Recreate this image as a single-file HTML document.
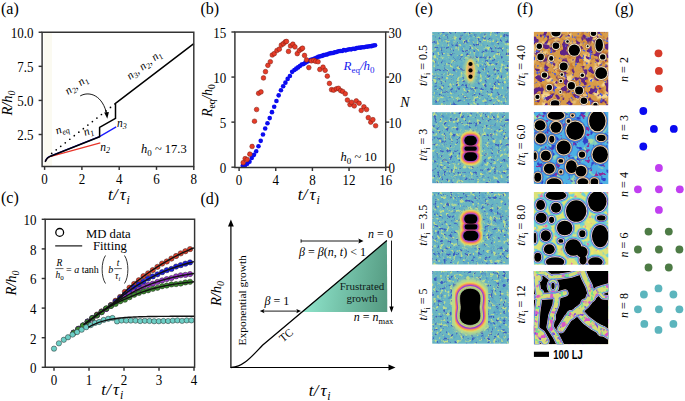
<!DOCTYPE html><html><head><meta charset="utf-8"><style>html,body{margin:0;padding:0;background:#fff;width:685px;height:401px;overflow:hidden}svg{display:block}</style></head><body>
<svg width="685" height="401" viewBox="0 0 685 401">
<rect width="685" height="401" fill="#fff"/>
<defs><filter id="blur05" x="-20%" y="-20%" width="140%" height="140%"><feGaussianBlur stdDeviation="0.5"/></filter><filter id="blur1" x="-30%" y="-30%" width="160%" height="160%"><feGaussianBlur stdDeviation="1.6"/></filter><filter id="texE" x="0" y="0" width="100%" height="100%" color-interpolation-filters="sRGB"><feFlood flood-color="#6ab6c2" result="base"/><feTurbulence type="fractalNoise" baseFrequency="0.2" numOctaves="2" seed="7" result="n0"/><feColorMatrix in="n0" type="matrix" values="0 0 0 0 0.353 0 0 0 0 0.651 0 0 0 0 0.784 0 0 4 0 -2.000" result="c0"/><feComposite in="c0" in2="base" operator="over" result="o0"/><feTurbulence type="fractalNoise" baseFrequency="0.3" numOctaves="2" seed="3" result="n1"/><feColorMatrix in="n1" type="matrix" values="0 0 0 0 0.745 0 0 0 0 0.871 0 0 0 0 0.549 6 0 0 0 -3.360" result="c1"/><feComposite in="c1" in2="o0" operator="over" result="o1"/><feTurbulence type="fractalNoise" baseFrequency="0.32" numOctaves="2" seed="5" result="n2"/><feColorMatrix in="n2" type="matrix" values="0 0 0 0 0.235 0 0 0 0 0.361 0 0 0 0 0.753 0 -6 0 0 2.460" result="c2"/><feComposite in="c2" in2="o1" operator="over" result="o2"/><feComposite in="o2" in2="SourceGraphic" operator="in"/></filter><filter id="texF1" x="0" y="0" width="100%" height="100%" color-interpolation-filters="sRGB"><feFlood flood-color="#d89c48" result="base"/><feTurbulence type="fractalNoise" baseFrequency="0.12" numOctaves="2" seed="11" result="n0"/><feColorMatrix in="n0" type="matrix" values="0 0 0 0 0.957 0 0 0 0 0.847 0 0 0 0 0.565 5 0 0 0 -2.650" result="c0"/><feComposite in="c0" in2="base" operator="over" result="o0"/><feTurbulence type="fractalNoise" baseFrequency="0.2" numOctaves="2" seed="14" result="n1"/><feColorMatrix in="n1" type="matrix" values="0 0 0 0 0.784 0 0 0 0 0.478 0 0 0 0 0.188 0 0 0 5 -2.800" result="c1"/><feComposite in="c1" in2="o0" operator="over" result="o1"/><feTurbulence type="fractalNoise" baseFrequency="0.16" numOctaves="2" seed="12" result="n2"/><feColorMatrix in="n2" type="matrix" values="0 0 0 0 0.369 0 0 0 0 0.141 0 0 0 0 0.525 0 -10 0 0 4.750" result="c2"/><feComposite in="c2" in2="o1" operator="over" result="o2"/><feTurbulence type="fractalNoise" baseFrequency="0.28" numOctaves="2" seed="13" result="n3"/><feColorMatrix in="n3" type="matrix" values="0 0 0 0 0.290 0 0 0 0 0.353 0 0 0 0 0.878 0 0 -8 0 2.880" result="c3"/><feComposite in="c3" in2="o2" operator="over" result="o3"/><feComposite in="o3" in2="SourceGraphic" operator="in"/></filter><filter id="texF2" x="0" y="0" width="100%" height="100%" color-interpolation-filters="sRGB"><feFlood flood-color="#4cb0e4" result="base"/><feTurbulence type="fractalNoise" baseFrequency="0.13" numOctaves="2" seed="21" result="n0"/><feColorMatrix in="n0" type="matrix" values="0 0 0 0 0.659 0 0 0 0 0.878 0 0 0 0 0.627 6 0 0 0 -3.300" result="c0"/><feComposite in="c0" in2="base" operator="over" result="o0"/><feTurbulence type="fractalNoise" baseFrequency="0.18" numOctaves="2" seed="22" result="n1"/><feColorMatrix in="n1" type="matrix" values="0 0 0 0 0.188 0 0 0 0 0.251 0 0 0 0 0.784 0 -7 0 0 3.010" result="c1"/><feComposite in="c1" in2="o0" operator="over" result="o1"/><feTurbulence type="fractalNoise" baseFrequency="0.22" numOctaves="2" seed="23" result="n2"/><feColorMatrix in="n2" type="matrix" values="0 0 0 0 0.565 0 0 0 0 0.165 0 0 0 0 0.596 0 0 -9 0 3.330" result="c2"/><feComposite in="c2" in2="o1" operator="over" result="o2"/><feComposite in="o2" in2="SourceGraphic" operator="in"/></filter><filter id="texF3" x="0" y="0" width="100%" height="100%" color-interpolation-filters="sRGB"><feFlood flood-color="#dce278" result="base"/><feTurbulence type="fractalNoise" baseFrequency="0.15" numOctaves="2" seed="31" result="n0"/><feColorMatrix in="n0" type="matrix" values="0 0 0 0 0.439 0 0 0 0 0.816 0 0 0 0 0.847 0 -7 0 0 2.940" result="c0"/><feComposite in="c0" in2="base" operator="over" result="o0"/><feTurbulence type="fractalNoise" baseFrequency="0.2" numOctaves="2" seed="32" result="n1"/><feColorMatrix in="n1" type="matrix" values="0 0 0 0 0.910 0 0 0 0 0.471 0 0 0 0 0.690 0 0 -9 0 3.330" result="c1"/><feComposite in="c1" in2="o0" operator="over" result="o1"/><feTurbulence type="fractalNoise" baseFrequency="0.2" numOctaves="2" seed="33" result="n2"/><feColorMatrix in="n2" type="matrix" values="0 0 0 0 0.941 0 0 0 0 0.910 0 0 0 0 0.408 8 0 0 0 -4.800" result="c2"/><feComposite in="c2" in2="o1" operator="over" result="o2"/><feComposite in="o2" in2="SourceGraphic" operator="in"/></filter><filter id="texF4" x="0" y="0" width="100%" height="100%" color-interpolation-filters="sRGB"><feFlood flood-color="#d8dc78" result="base"/><feTurbulence type="fractalNoise" baseFrequency="0.18" numOctaves="2" seed="41" result="n0"/><feColorMatrix in="n0" type="matrix" values="0 0 0 0 0.847 0 0 0 0 0.345 0 0 0 0 0.784 0 -8 0 0 3.520" result="c0"/><feComposite in="c0" in2="base" operator="over" result="o0"/><feTurbulence type="fractalNoise" baseFrequency="0.22" numOctaves="2" seed="42" result="n1"/><feColorMatrix in="n1" type="matrix" values="0 0 0 0 0.502 0 0 0 0 0.282 0 0 0 0 0.878 0 0 -9 0 3.420" result="c1"/><feComposite in="c1" in2="o0" operator="over" result="o1"/><feTurbulence type="fractalNoise" baseFrequency="0.2" numOctaves="2" seed="43" result="n2"/><feColorMatrix in="n2" type="matrix" values="0 0 0 0 0.439 0 0 0 0 0.878 0 0 0 0 0.565 9 0 0 0 -5.580" result="c2"/><feComposite in="c2" in2="o1" operator="over" result="o2"/><feComposite in="o2" in2="SourceGraphic" operator="in"/></filter></defs>
<rect x="43.8" y="32.25" width="8.2" height="134.15" fill="#fbfaf1"/>
<polyline points="45.20,161.30 46.50,159.00 48.50,157.30 51.00,156.30 100.30,142.80" fill="none" stroke="#e8352a" stroke-width="1.2" stroke-linejoin="round" />
<polyline points="45.20,161.50 46.50,159.00 48.50,157.00 51.00,155.90 99.50,136.60 116.20,126.90" fill="none" stroke="#1a1aff" stroke-width="1.3" stroke-linejoin="round" />
<circle cx="51.70" cy="153.40" r="0.85" fill="#000" stroke="none" stroke-width="0"/>
<circle cx="56.22" cy="149.86" r="0.85" fill="#000" stroke="none" stroke-width="0"/>
<circle cx="60.74" cy="146.33" r="0.85" fill="#000" stroke="none" stroke-width="0"/>
<circle cx="65.26" cy="142.79" r="0.85" fill="#000" stroke="none" stroke-width="0"/>
<circle cx="69.79" cy="139.26" r="0.85" fill="#000" stroke="none" stroke-width="0"/>
<circle cx="74.31" cy="135.72" r="0.85" fill="#000" stroke="none" stroke-width="0"/>
<circle cx="78.83" cy="132.19" r="0.85" fill="#000" stroke="none" stroke-width="0"/>
<circle cx="83.35" cy="128.65" r="0.85" fill="#000" stroke="none" stroke-width="0"/>
<circle cx="87.87" cy="125.11" r="0.85" fill="#000" stroke="none" stroke-width="0"/>
<circle cx="92.39" cy="121.58" r="0.85" fill="#000" stroke="none" stroke-width="0"/>
<circle cx="96.91" cy="118.04" r="0.85" fill="#000" stroke="none" stroke-width="0"/>
<circle cx="101.44" cy="114.51" r="0.85" fill="#000" stroke="none" stroke-width="0"/>
<circle cx="105.96" cy="110.97" r="0.85" fill="#000" stroke="none" stroke-width="0"/>
<circle cx="110.48" cy="107.44" r="0.85" fill="#000" stroke="none" stroke-width="0"/>
<circle cx="115.00" cy="103.90" r="0.85" fill="#000" stroke="none" stroke-width="0"/>
<polyline points="45.20,161.80 46.30,159.60 48.00,157.60 50.50,156.20 99.60,136.70 99.60,127.40 115.50,118.40 115.50,103.30 193.80,43.60" fill="none" stroke="#000" stroke-width="1.5" stroke-linejoin="round" />
<path d="M80.2,95.9 C90,90.5 103,96 106.8,114.5" fill="none" stroke="#000" stroke-width="0.9"/>
<path d="M104.2,112.6 L107.3,118.8 L108.9,112.0 Z" fill="#000"/>
<path d="M42.1,32.25 H193.8 V166.4 H42.1 Z" fill="none" stroke="#333" stroke-width="1.45"/>
<line x1="38.60" y1="134.50" x2="42.10" y2="134.50" stroke="#333" stroke-width="1.45" />
<text x="0.00" y="0.00" font-size="14.6" text-anchor="end" fill="#000" style="font-family:'Liberation Serif', serif" transform="translate(33.50 140.40) scale(0.89 1)" >2.5</text>
<line x1="38.60" y1="100.42" x2="42.10" y2="100.42" stroke="#333" stroke-width="1.45" />
<text x="0.00" y="0.00" font-size="14.6" text-anchor="end" fill="#000" style="font-family:'Liberation Serif', serif" transform="translate(33.50 106.32) scale(0.89 1)" >5.0</text>
<line x1="38.60" y1="66.33" x2="42.10" y2="66.33" stroke="#333" stroke-width="1.45" />
<text x="0.00" y="0.00" font-size="14.6" text-anchor="end" fill="#000" style="font-family:'Liberation Serif', serif" transform="translate(33.50 72.23) scale(0.89 1)" >7.5</text>
<line x1="38.60" y1="32.25" x2="42.10" y2="32.25" stroke="#333" stroke-width="1.45" />
<text x="0.00" y="0.00" font-size="14.6" text-anchor="end" fill="#000" style="font-family:'Liberation Serif', serif" transform="translate(33.50 38.15) scale(0.89 1)" >10.0</text>
<line x1="44.60" y1="166.40" x2="44.60" y2="169.90" stroke="#333" stroke-width="1.45" />
<text x="0.00" y="0.00" font-size="14.6" text-anchor="middle" fill="#000" style="font-family:'Liberation Serif', serif" transform="translate(44.60 184.00) scale(0.89 1)" >0</text>
<line x1="81.90" y1="166.40" x2="81.90" y2="169.90" stroke="#333" stroke-width="1.45" />
<text x="0.00" y="0.00" font-size="14.6" text-anchor="middle" fill="#000" style="font-family:'Liberation Serif', serif" transform="translate(81.90 184.00) scale(0.89 1)" >2</text>
<line x1="119.20" y1="166.40" x2="119.20" y2="169.90" stroke="#333" stroke-width="1.45" />
<text x="0.00" y="0.00" font-size="14.6" text-anchor="middle" fill="#000" style="font-family:'Liberation Serif', serif" transform="translate(119.20 184.00) scale(0.89 1)" >4</text>
<line x1="156.50" y1="166.40" x2="156.50" y2="169.90" stroke="#333" stroke-width="1.45" />
<text x="0.00" y="0.00" font-size="14.6" text-anchor="middle" fill="#000" style="font-family:'Liberation Serif', serif" transform="translate(156.50 184.00) scale(0.89 1)" >6</text>
<line x1="193.80" y1="166.40" x2="193.80" y2="169.90" stroke="#333" stroke-width="1.45" />
<text x="0.00" y="0.00" font-size="14.6" text-anchor="middle" fill="#000" style="font-family:'Liberation Serif', serif" transform="translate(193.80 184.00) scale(0.89 1)" >8</text>
<text x="12.30" y="103.00" font-size="14.5" text-anchor="middle" fill="#000" style="font-style:italic;font-family:'Liberation Serif', serif" transform="rotate(-90 12.3 103)" >R/<tspan>h</tspan><tspan font-size="10" dy="3">0</tspan></text>
<text y="199.5" font-size="17" style="font-family:'Liberation Serif', serif;font-style:italic"><tspan x="108.00">t</tspan><tspan x="113.00">/</tspan><tspan x="119.70">τ</tspan><tspan x="126.60" dy="4" font-size="11.9">i</tspan></text>
<text x="1.00" y="14.20" font-size="16" text-anchor="start" fill="#000" style="font-family:'Liberation Serif', serif" >(a)</text>
<text x="0" y="0" font-size="11.5" style="font-family:'Liberation Serif', serif;font-style:italic" transform="translate(130,80) rotate(-37)">n<tspan font-size="8" dy="2.5">3</tspan><tspan dy="-2.5">, n</tspan><tspan font-size="8" dy="2.5">2</tspan><tspan dy="-2.5">, n</tspan><tspan font-size="8" dy="2.5">1</tspan></text>
<text x="0" y="0" font-size="11.5" style="font-family:'Liberation Serif', serif;font-style:italic" transform="translate(68,95) rotate(-34)">n<tspan font-size="8" dy="2.5">2</tspan><tspan dy="-2.5">, n</tspan><tspan font-size="8" dy="2.5">1</tspan></text>
<text x="0" y="0" font-size="11.5" style="font-family:'Liberation Serif', serif;font-style:italic" transform="translate(57,134.5) rotate(-20)">n<tspan font-size="8" dy="2.5">eq</tspan></text>
<text x="0" y="0" font-size="11.5" style="font-family:'Liberation Serif', serif;font-style:italic" transform="translate(85,136) rotate(-20)">n<tspan font-size="8" dy="2.5">1</tspan></text>
<text x="117" y="126.5" font-size="11.5" style="font-family:'Liberation Serif', serif;font-style:italic">n<tspan font-size="8" dy="2.5">3</tspan></text>
<text x="100.2" y="150.5" font-size="11.5" style="font-family:'Liberation Serif', serif;font-style:italic">n<tspan font-size="8" dy="2.5">2</tspan></text>
<text x="141" y="153" font-size="12.5" style="font-family:'Liberation Serif', serif"><tspan font-style="italic">h</tspan><tspan font-size="9" dy="3">0</tspan><tspan dy="-3"> ~ 17.3</tspan></text>
<circle cx="242.76" cy="165.70" r="2.3" fill="#0c0cf0" stroke="none" stroke-width="0"/>
<circle cx="245.01" cy="165.28" r="2.3" fill="#0c0cf0" stroke="none" stroke-width="0"/>
<circle cx="247.25" cy="163.70" r="2.3" fill="#0c0cf0" stroke="none" stroke-width="0"/>
<circle cx="249.50" cy="161.72" r="2.3" fill="#0c0cf0" stroke="none" stroke-width="0"/>
<circle cx="251.74" cy="158.06" r="2.3" fill="#0c0cf0" stroke="none" stroke-width="0"/>
<circle cx="253.99" cy="154.86" r="2.3" fill="#0c0cf0" stroke="none" stroke-width="0"/>
<circle cx="256.23" cy="151.26" r="2.3" fill="#0c0cf0" stroke="none" stroke-width="0"/>
<circle cx="258.48" cy="146.18" r="2.3" fill="#0c0cf0" stroke="none" stroke-width="0"/>
<circle cx="260.72" cy="140.86" r="2.3" fill="#0c0cf0" stroke="none" stroke-width="0"/>
<circle cx="262.97" cy="134.50" r="2.3" fill="#0c0cf0" stroke="none" stroke-width="0"/>
<circle cx="265.21" cy="128.55" r="2.3" fill="#0c0cf0" stroke="none" stroke-width="0"/>
<circle cx="267.46" cy="123.29" r="2.3" fill="#0c0cf0" stroke="none" stroke-width="0"/>
<circle cx="269.70" cy="118.08" r="2.3" fill="#0c0cf0" stroke="none" stroke-width="0"/>
<circle cx="271.95" cy="112.17" r="2.3" fill="#0c0cf0" stroke="none" stroke-width="0"/>
<circle cx="274.19" cy="106.73" r="2.3" fill="#0c0cf0" stroke="none" stroke-width="0"/>
<circle cx="276.44" cy="101.02" r="2.3" fill="#0c0cf0" stroke="none" stroke-width="0"/>
<circle cx="278.68" cy="95.34" r="2.3" fill="#0c0cf0" stroke="none" stroke-width="0"/>
<circle cx="280.93" cy="90.31" r="2.3" fill="#0c0cf0" stroke="none" stroke-width="0"/>
<circle cx="283.17" cy="86.24" r="2.3" fill="#0c0cf0" stroke="none" stroke-width="0"/>
<circle cx="285.42" cy="82.63" r="2.3" fill="#0c0cf0" stroke="none" stroke-width="0"/>
<circle cx="287.66" cy="78.88" r="2.3" fill="#0c0cf0" stroke="none" stroke-width="0"/>
<circle cx="289.91" cy="75.93" r="2.3" fill="#0c0cf0" stroke="none" stroke-width="0"/>
<circle cx="292.15" cy="71.83" r="2.3" fill="#0c0cf0" stroke="none" stroke-width="0"/>
<circle cx="294.40" cy="69.99" r="2.3" fill="#0c0cf0" stroke="none" stroke-width="0"/>
<circle cx="296.23" cy="68.65" r="2.3" fill="#0c0cf0" stroke="none" stroke-width="0"/>
<circle cx="298.06" cy="67.39" r="2.3" fill="#0c0cf0" stroke="none" stroke-width="0"/>
<circle cx="299.89" cy="66.02" r="2.3" fill="#0c0cf0" stroke="none" stroke-width="0"/>
<circle cx="301.73" cy="64.52" r="2.3" fill="#0c0cf0" stroke="none" stroke-width="0"/>
<circle cx="303.56" cy="63.93" r="2.3" fill="#0c0cf0" stroke="none" stroke-width="0"/>
<circle cx="305.39" cy="62.63" r="2.3" fill="#0c0cf0" stroke="none" stroke-width="0"/>
<circle cx="307.22" cy="61.61" r="2.3" fill="#0c0cf0" stroke="none" stroke-width="0"/>
<circle cx="309.06" cy="60.84" r="2.3" fill="#0c0cf0" stroke="none" stroke-width="0"/>
<circle cx="310.89" cy="59.81" r="2.3" fill="#0c0cf0" stroke="none" stroke-width="0"/>
<circle cx="312.72" cy="59.31" r="2.3" fill="#0c0cf0" stroke="none" stroke-width="0"/>
<circle cx="314.55" cy="58.55" r="2.3" fill="#0c0cf0" stroke="none" stroke-width="0"/>
<circle cx="316.39" cy="57.75" r="2.3" fill="#0c0cf0" stroke="none" stroke-width="0"/>
<circle cx="318.22" cy="56.78" r="2.3" fill="#0c0cf0" stroke="none" stroke-width="0"/>
<circle cx="320.05" cy="56.36" r="2.3" fill="#0c0cf0" stroke="none" stroke-width="0"/>
<circle cx="321.88" cy="55.89" r="2.3" fill="#0c0cf0" stroke="none" stroke-width="0"/>
<circle cx="323.72" cy="55.16" r="2.3" fill="#0c0cf0" stroke="none" stroke-width="0"/>
<circle cx="325.55" cy="54.75" r="2.3" fill="#0c0cf0" stroke="none" stroke-width="0"/>
<circle cx="327.38" cy="54.37" r="2.3" fill="#0c0cf0" stroke="none" stroke-width="0"/>
<circle cx="329.21" cy="53.54" r="2.3" fill="#0c0cf0" stroke="none" stroke-width="0"/>
<circle cx="331.05" cy="53.15" r="2.3" fill="#0c0cf0" stroke="none" stroke-width="0"/>
<circle cx="332.88" cy="53.03" r="2.3" fill="#0c0cf0" stroke="none" stroke-width="0"/>
<circle cx="334.71" cy="52.35" r="2.3" fill="#0c0cf0" stroke="none" stroke-width="0"/>
<circle cx="336.54" cy="51.96" r="2.3" fill="#0c0cf0" stroke="none" stroke-width="0"/>
<circle cx="338.38" cy="51.30" r="2.3" fill="#0c0cf0" stroke="none" stroke-width="0"/>
<circle cx="340.21" cy="51.01" r="2.3" fill="#0c0cf0" stroke="none" stroke-width="0"/>
<circle cx="342.04" cy="50.95" r="2.3" fill="#0c0cf0" stroke="none" stroke-width="0"/>
<circle cx="343.87" cy="50.08" r="2.3" fill="#0c0cf0" stroke="none" stroke-width="0"/>
<circle cx="345.71" cy="50.35" r="2.3" fill="#0c0cf0" stroke="none" stroke-width="0"/>
<circle cx="347.54" cy="49.79" r="2.3" fill="#0c0cf0" stroke="none" stroke-width="0"/>
<circle cx="349.37" cy="49.22" r="2.3" fill="#0c0cf0" stroke="none" stroke-width="0"/>
<circle cx="351.20" cy="49.35" r="2.3" fill="#0c0cf0" stroke="none" stroke-width="0"/>
<circle cx="353.04" cy="48.81" r="2.3" fill="#0c0cf0" stroke="none" stroke-width="0"/>
<circle cx="354.87" cy="48.85" r="2.3" fill="#0c0cf0" stroke="none" stroke-width="0"/>
<circle cx="356.70" cy="48.12" r="2.3" fill="#0c0cf0" stroke="none" stroke-width="0"/>
<circle cx="358.53" cy="47.79" r="2.3" fill="#0c0cf0" stroke="none" stroke-width="0"/>
<circle cx="360.37" cy="47.66" r="2.3" fill="#0c0cf0" stroke="none" stroke-width="0"/>
<circle cx="362.20" cy="47.18" r="2.3" fill="#0c0cf0" stroke="none" stroke-width="0"/>
<circle cx="364.03" cy="47.32" r="2.3" fill="#0c0cf0" stroke="none" stroke-width="0"/>
<circle cx="365.86" cy="46.78" r="2.3" fill="#0c0cf0" stroke="none" stroke-width="0"/>
<circle cx="367.70" cy="46.59" r="2.3" fill="#0c0cf0" stroke="none" stroke-width="0"/>
<circle cx="369.53" cy="46.32" r="2.3" fill="#0c0cf0" stroke="none" stroke-width="0"/>
<circle cx="371.36" cy="46.14" r="2.3" fill="#0c0cf0" stroke="none" stroke-width="0"/>
<circle cx="373.19" cy="45.59" r="2.3" fill="#0c0cf0" stroke="none" stroke-width="0"/>
<circle cx="375.03" cy="45.24" r="2.3" fill="#0c0cf0" stroke="none" stroke-width="0"/>
<circle cx="243.22" cy="162.69" r="2.35" fill="#e63c28" stroke="#7a1a10" stroke-width="0.5"/>
<circle cx="245.15" cy="158.64" r="2.35" fill="#e63c28" stroke="#7a1a10" stroke-width="0.5"/>
<circle cx="247.16" cy="159.54" r="2.35" fill="#e63c28" stroke="#7a1a10" stroke-width="0.5"/>
<circle cx="249.82" cy="154.13" r="2.35" fill="#e63c28" stroke="#7a1a10" stroke-width="0.5"/>
<circle cx="252.11" cy="146.47" r="2.35" fill="#e63c28" stroke="#7a1a10" stroke-width="0.5"/>
<circle cx="254.49" cy="121.23" r="2.35" fill="#e63c28" stroke="#7a1a10" stroke-width="0.5"/>
<circle cx="256.60" cy="109.51" r="2.35" fill="#e63c28" stroke="#7a1a10" stroke-width="0.5"/>
<circle cx="258.62" cy="93.29" r="2.35" fill="#e63c28" stroke="#7a1a10" stroke-width="0.5"/>
<circle cx="261.00" cy="91.94" r="2.35" fill="#e63c28" stroke="#7a1a10" stroke-width="0.5"/>
<circle cx="263.47" cy="77.97" r="2.35" fill="#e63c28" stroke="#7a1a10" stroke-width="0.5"/>
<circle cx="265.49" cy="71.66" r="2.35" fill="#e63c28" stroke="#7a1a10" stroke-width="0.5"/>
<circle cx="267.87" cy="65.35" r="2.35" fill="#e63c28" stroke="#7a1a10" stroke-width="0.5"/>
<circle cx="270.34" cy="61.74" r="2.35" fill="#e63c28" stroke="#7a1a10" stroke-width="0.5"/>
<circle cx="272.27" cy="54.98" r="2.35" fill="#e63c28" stroke="#7a1a10" stroke-width="0.5"/>
<circle cx="274.28" cy="53.63" r="2.35" fill="#e63c28" stroke="#7a1a10" stroke-width="0.5"/>
<circle cx="276.94" cy="50.48" r="2.35" fill="#e63c28" stroke="#7a1a10" stroke-width="0.5"/>
<circle cx="279.32" cy="49.13" r="2.35" fill="#e63c28" stroke="#7a1a10" stroke-width="0.5"/>
<circle cx="281.34" cy="45.07" r="2.35" fill="#e63c28" stroke="#7a1a10" stroke-width="0.5"/>
<circle cx="283.35" cy="43.72" r="2.35" fill="#e63c28" stroke="#7a1a10" stroke-width="0.5"/>
<circle cx="285.28" cy="41.91" r="2.35" fill="#e63c28" stroke="#7a1a10" stroke-width="0.5"/>
<circle cx="286.47" cy="41.46" r="2.35" fill="#e63c28" stroke="#7a1a10" stroke-width="0.5"/>
<circle cx="288.49" cy="51.38" r="2.35" fill="#e63c28" stroke="#7a1a10" stroke-width="0.5"/>
<circle cx="290.50" cy="45.97" r="2.35" fill="#e63c28" stroke="#7a1a10" stroke-width="0.5"/>
<circle cx="292.88" cy="44.17" r="2.35" fill="#e63c28" stroke="#7a1a10" stroke-width="0.5"/>
<circle cx="294.90" cy="46.87" r="2.35" fill="#e63c28" stroke="#7a1a10" stroke-width="0.5"/>
<circle cx="297.28" cy="53.63" r="2.35" fill="#e63c28" stroke="#7a1a10" stroke-width="0.5"/>
<circle cx="299.30" cy="50.48" r="2.35" fill="#e63c28" stroke="#7a1a10" stroke-width="0.5"/>
<circle cx="301.31" cy="49.13" r="2.35" fill="#e63c28" stroke="#7a1a10" stroke-width="0.5"/>
<circle cx="302.50" cy="48.22" r="2.35" fill="#e63c28" stroke="#7a1a10" stroke-width="0.5"/>
<circle cx="304.52" cy="55.43" r="2.35" fill="#e63c28" stroke="#7a1a10" stroke-width="0.5"/>
<circle cx="306.54" cy="59.94" r="2.35" fill="#e63c28" stroke="#7a1a10" stroke-width="0.5"/>
<circle cx="308.83" cy="67.60" r="2.35" fill="#e63c28" stroke="#7a1a10" stroke-width="0.5"/>
<circle cx="311.30" cy="60.84" r="2.35" fill="#e63c28" stroke="#7a1a10" stroke-width="0.5"/>
<circle cx="313.87" cy="60.39" r="2.35" fill="#e63c28" stroke="#7a1a10" stroke-width="0.5"/>
<circle cx="315.61" cy="61.29" r="2.35" fill="#e63c28" stroke="#7a1a10" stroke-width="0.5"/>
<circle cx="318.08" cy="61.74" r="2.35" fill="#e63c28" stroke="#7a1a10" stroke-width="0.5"/>
<circle cx="319.82" cy="69.41" r="2.35" fill="#e63c28" stroke="#7a1a10" stroke-width="0.5"/>
<circle cx="323.03" cy="67.15" r="2.35" fill="#e63c28" stroke="#7a1a10" stroke-width="0.5"/>
<circle cx="325.14" cy="70.31" r="2.35" fill="#e63c28" stroke="#7a1a10" stroke-width="0.5"/>
<circle cx="327.33" cy="76.17" r="2.35" fill="#e63c28" stroke="#7a1a10" stroke-width="0.5"/>
<circle cx="329.44" cy="83.38" r="2.35" fill="#e63c28" stroke="#7a1a10" stroke-width="0.5"/>
<circle cx="331.55" cy="89.69" r="2.35" fill="#e63c28" stroke="#7a1a10" stroke-width="0.5"/>
<circle cx="333.66" cy="90.14" r="2.35" fill="#e63c28" stroke="#7a1a10" stroke-width="0.5"/>
<circle cx="336.41" cy="88.78" r="2.35" fill="#e63c28" stroke="#7a1a10" stroke-width="0.5"/>
<circle cx="338.51" cy="88.33" r="2.35" fill="#e63c28" stroke="#7a1a10" stroke-width="0.5"/>
<circle cx="340.62" cy="90.59" r="2.35" fill="#e63c28" stroke="#7a1a10" stroke-width="0.5"/>
<circle cx="342.73" cy="91.49" r="2.35" fill="#e63c28" stroke="#7a1a10" stroke-width="0.5"/>
<circle cx="345.29" cy="93.74" r="2.35" fill="#e63c28" stroke="#7a1a10" stroke-width="0.5"/>
<circle cx="347.40" cy="100.05" r="2.35" fill="#e63c28" stroke="#7a1a10" stroke-width="0.5"/>
<circle cx="349.97" cy="104.56" r="2.35" fill="#e63c28" stroke="#7a1a10" stroke-width="0.5"/>
<circle cx="351.62" cy="102.30" r="2.35" fill="#e63c28" stroke="#7a1a10" stroke-width="0.5"/>
<circle cx="354.27" cy="105.91" r="2.35" fill="#e63c28" stroke="#7a1a10" stroke-width="0.5"/>
<circle cx="356.29" cy="100.95" r="2.35" fill="#e63c28" stroke="#7a1a10" stroke-width="0.5"/>
<circle cx="359.13" cy="103.21" r="2.35" fill="#e63c28" stroke="#7a1a10" stroke-width="0.5"/>
<circle cx="361.24" cy="110.42" r="2.35" fill="#e63c28" stroke="#7a1a10" stroke-width="0.5"/>
<circle cx="363.89" cy="106.81" r="2.35" fill="#e63c28" stroke="#7a1a10" stroke-width="0.5"/>
<circle cx="366.55" cy="109.51" r="2.35" fill="#e63c28" stroke="#7a1a10" stroke-width="0.5"/>
<circle cx="368.29" cy="117.63" r="2.35" fill="#e63c28" stroke="#7a1a10" stroke-width="0.5"/>
<circle cx="370.77" cy="122.13" r="2.35" fill="#e63c28" stroke="#7a1a10" stroke-width="0.5"/>
<circle cx="372.87" cy="119.65" r="2.35" fill="#e63c28" stroke="#7a1a10" stroke-width="0.5"/>
<circle cx="375.62" cy="125.74" r="2.35" fill="#e63c28" stroke="#7a1a10" stroke-width="0.5"/>
<path d="M234.9,32.0 H385.7 V167.5 H234.9 Z" fill="none" stroke="#333" stroke-width="1.45"/>
<line x1="231.40" y1="167.20" x2="234.90" y2="167.20" stroke="#333" stroke-width="1.45" />
<text x="0.00" y="0.00" font-size="14.6" text-anchor="end" fill="#000" style="font-family:'Liberation Serif', serif" transform="translate(226.30 173.10) scale(0.89 1)" >0</text>
<line x1="231.40" y1="122.13" x2="234.90" y2="122.13" stroke="#333" stroke-width="1.45" />
<text x="0.00" y="0.00" font-size="14.6" text-anchor="end" fill="#000" style="font-family:'Liberation Serif', serif" transform="translate(226.30 128.03) scale(0.89 1)" >5</text>
<line x1="231.40" y1="77.07" x2="234.90" y2="77.07" stroke="#333" stroke-width="1.45" />
<text x="0.00" y="0.00" font-size="14.6" text-anchor="end" fill="#000" style="font-family:'Liberation Serif', serif" transform="translate(226.30 82.97) scale(0.89 1)" >10</text>
<line x1="231.40" y1="32.00" x2="234.90" y2="32.00" stroke="#333" stroke-width="1.45" />
<text x="0.00" y="0.00" font-size="14.6" text-anchor="end" fill="#000" style="font-family:'Liberation Serif', serif" transform="translate(226.30 37.90) scale(0.89 1)" >15</text>
<line x1="385.70" y1="167.20" x2="389.20" y2="167.20" stroke="#333" stroke-width="1.45" />
<text x="0.00" y="0.00" font-size="14.6" text-anchor="start" fill="#000" style="font-family:'Liberation Serif', serif" transform="translate(388.50 173.10) scale(0.89 1)" >0</text>
<line x1="385.70" y1="122.13" x2="389.20" y2="122.13" stroke="#333" stroke-width="1.45" />
<text x="0.00" y="0.00" font-size="14.6" text-anchor="start" fill="#000" style="font-family:'Liberation Serif', serif" transform="translate(388.50 128.03) scale(0.89 1)" >10</text>
<line x1="385.70" y1="77.07" x2="389.20" y2="77.07" stroke="#333" stroke-width="1.45" />
<text x="0.00" y="0.00" font-size="14.6" text-anchor="start" fill="#000" style="font-family:'Liberation Serif', serif" transform="translate(388.50 82.97) scale(0.89 1)" >20</text>
<line x1="385.70" y1="32.00" x2="389.20" y2="32.00" stroke="#333" stroke-width="1.45" />
<text x="0.00" y="0.00" font-size="14.6" text-anchor="start" fill="#000" style="font-family:'Liberation Serif', serif" transform="translate(388.50 37.90) scale(0.89 1)" >30</text>
<line x1="239.10" y1="167.50" x2="239.10" y2="171.00" stroke="#333" stroke-width="1.45" />
<text x="0.00" y="0.00" font-size="14.6" text-anchor="middle" fill="#000" style="font-family:'Liberation Serif', serif" transform="translate(239.10 185.10) scale(0.89 1)" >0</text>
<line x1="275.75" y1="167.50" x2="275.75" y2="171.00" stroke="#333" stroke-width="1.45" />
<text x="0.00" y="0.00" font-size="14.6" text-anchor="middle" fill="#000" style="font-family:'Liberation Serif', serif" transform="translate(275.75 185.10) scale(0.89 1)" >4</text>
<line x1="312.40" y1="167.50" x2="312.40" y2="171.00" stroke="#333" stroke-width="1.45" />
<text x="0.00" y="0.00" font-size="14.6" text-anchor="middle" fill="#000" style="font-family:'Liberation Serif', serif" transform="translate(312.40 185.10) scale(0.89 1)" >8</text>
<line x1="349.05" y1="167.50" x2="349.05" y2="171.00" stroke="#333" stroke-width="1.45" />
<text x="0.00" y="0.00" font-size="14.6" text-anchor="middle" fill="#000" style="font-family:'Liberation Serif', serif" transform="translate(349.05 185.10) scale(0.89 1)" >12</text>
<line x1="385.70" y1="167.50" x2="385.70" y2="171.00" stroke="#333" stroke-width="1.45" />
<text x="0.00" y="0.00" font-size="14.6" text-anchor="middle" fill="#000" style="font-family:'Liberation Serif', serif" transform="translate(385.70 185.10) scale(0.89 1)" >16</text>
<text x="200.50" y="14.20" font-size="16" text-anchor="start" fill="#000" style="font-family:'Liberation Serif', serif" >(b)</text>
<text x="0" y="0" font-size="13.6" text-anchor="middle" style="font-family:'Liberation Serif', serif;font-style:italic" transform="translate(211.8,100.5) rotate(-90)">R<tspan font-size="9.5" dy="3" font-style="normal">eq</tspan><tspan dy="-3">/h</tspan><tspan font-size="9.5" dy="3" font-style="normal">0</tspan></text>
<text x="0" y="0" font-size="14.5" text-anchor="middle" style="font-family:'Liberation Serif', serif;font-style:italic" transform="translate(409.5,101.5) rotate(-90)"> </text>
<text x="405.00" y="106.50" font-size="14" text-anchor="middle" fill="#000" style="font-style:italic;font-family:'Liberation Serif', serif" >N</text>
<text y="199.5" font-size="17" style="font-family:'Liberation Serif', serif;font-style:italic"><tspan x="297.80">t</tspan><tspan x="302.80">/</tspan><tspan x="309.50">τ</tspan><tspan x="316.40" dy="4" font-size="11.9">i</tspan></text>
<text x="343.5" y="70" font-size="13" fill="#1a1aee" style="font-family:'Liberation Serif', serif;font-style:italic">R<tspan font-size="9" dy="3" font-style="normal">eq</tspan><tspan dy="-3">/h</tspan><tspan font-size="9" dy="3" font-style="normal">0</tspan></text>
<text x="340.5" y="160.5" font-size="12.5" style="font-family:'Liberation Serif', serif"><tspan font-style="italic">h</tspan><tspan font-size="9" dy="3">0</tspan><tspan dy="-3"> ~ 10</tspan></text>
<circle cx="73.67" cy="332.60" r="2.65" fill="#e4402c" stroke="#2a2a2a" stroke-width="0.5"/>
<circle cx="78.33" cy="328.79" r="2.65" fill="#e4402c" stroke="#2a2a2a" stroke-width="0.5"/>
<circle cx="82.98" cy="325.75" r="2.65" fill="#e4402c" stroke="#2a2a2a" stroke-width="0.5"/>
<circle cx="87.64" cy="321.67" r="2.65" fill="#e4402c" stroke="#2a2a2a" stroke-width="0.5"/>
<circle cx="92.29" cy="318.26" r="2.65" fill="#e4402c" stroke="#2a2a2a" stroke-width="0.5"/>
<circle cx="96.94" cy="314.57" r="2.65" fill="#e4402c" stroke="#2a2a2a" stroke-width="0.5"/>
<circle cx="101.60" cy="311.42" r="2.65" fill="#e4402c" stroke="#2a2a2a" stroke-width="0.5"/>
<circle cx="106.25" cy="308.65" r="2.65" fill="#e4402c" stroke="#2a2a2a" stroke-width="0.5"/>
<circle cx="110.91" cy="305.02" r="2.65" fill="#e4402c" stroke="#2a2a2a" stroke-width="0.5"/>
<circle cx="115.56" cy="300.75" r="2.65" fill="#e4402c" stroke="#2a2a2a" stroke-width="0.5"/>
<circle cx="120.22" cy="296.87" r="2.65" fill="#e4402c" stroke="#2a2a2a" stroke-width="0.5"/>
<circle cx="124.88" cy="291.85" r="2.65" fill="#e4402c" stroke="#2a2a2a" stroke-width="0.5"/>
<circle cx="129.53" cy="287.70" r="2.65" fill="#e4402c" stroke="#2a2a2a" stroke-width="0.5"/>
<circle cx="134.19" cy="283.89" r="2.65" fill="#e4402c" stroke="#2a2a2a" stroke-width="0.5"/>
<circle cx="138.84" cy="280.27" r="2.65" fill="#e4402c" stroke="#2a2a2a" stroke-width="0.5"/>
<circle cx="143.50" cy="276.13" r="2.65" fill="#e4402c" stroke="#2a2a2a" stroke-width="0.5"/>
<circle cx="148.15" cy="273.35" r="2.65" fill="#e4402c" stroke="#2a2a2a" stroke-width="0.5"/>
<circle cx="152.81" cy="270.04" r="2.65" fill="#e4402c" stroke="#2a2a2a" stroke-width="0.5"/>
<circle cx="157.46" cy="266.87" r="2.65" fill="#e4402c" stroke="#2a2a2a" stroke-width="0.5"/>
<circle cx="162.12" cy="263.55" r="2.65" fill="#e4402c" stroke="#2a2a2a" stroke-width="0.5"/>
<circle cx="166.77" cy="261.50" r="2.65" fill="#e4402c" stroke="#2a2a2a" stroke-width="0.5"/>
<circle cx="171.43" cy="258.57" r="2.65" fill="#e4402c" stroke="#2a2a2a" stroke-width="0.5"/>
<circle cx="176.08" cy="256.02" r="2.65" fill="#e4402c" stroke="#2a2a2a" stroke-width="0.5"/>
<circle cx="180.74" cy="253.39" r="2.65" fill="#e4402c" stroke="#2a2a2a" stroke-width="0.5"/>
<circle cx="185.39" cy="251.24" r="2.65" fill="#e4402c" stroke="#2a2a2a" stroke-width="0.5"/>
<circle cx="190.04" cy="249.13" r="2.65" fill="#e4402c" stroke="#2a2a2a" stroke-width="0.5"/>
<circle cx="73.67" cy="332.77" r="2.65" fill="#1c1ce8" stroke="#2a2a2a" stroke-width="0.5"/>
<circle cx="78.33" cy="329.01" r="2.65" fill="#1c1ce8" stroke="#2a2a2a" stroke-width="0.5"/>
<circle cx="82.98" cy="325.49" r="2.65" fill="#1c1ce8" stroke="#2a2a2a" stroke-width="0.5"/>
<circle cx="87.64" cy="321.51" r="2.65" fill="#1c1ce8" stroke="#2a2a2a" stroke-width="0.5"/>
<circle cx="92.29" cy="317.99" r="2.65" fill="#1c1ce8" stroke="#2a2a2a" stroke-width="0.5"/>
<circle cx="96.94" cy="315.32" r="2.65" fill="#1c1ce8" stroke="#2a2a2a" stroke-width="0.5"/>
<circle cx="101.60" cy="312.00" r="2.65" fill="#1c1ce8" stroke="#2a2a2a" stroke-width="0.5"/>
<circle cx="106.25" cy="308.78" r="2.65" fill="#1c1ce8" stroke="#2a2a2a" stroke-width="0.5"/>
<circle cx="110.91" cy="305.46" r="2.65" fill="#1c1ce8" stroke="#2a2a2a" stroke-width="0.5"/>
<circle cx="115.56" cy="301.67" r="2.65" fill="#1c1ce8" stroke="#2a2a2a" stroke-width="0.5"/>
<circle cx="120.22" cy="297.81" r="2.65" fill="#1c1ce8" stroke="#2a2a2a" stroke-width="0.5"/>
<circle cx="124.88" cy="294.31" r="2.65" fill="#1c1ce8" stroke="#2a2a2a" stroke-width="0.5"/>
<circle cx="129.53" cy="290.98" r="2.65" fill="#1c1ce8" stroke="#2a2a2a" stroke-width="0.5"/>
<circle cx="134.19" cy="287.43" r="2.65" fill="#1c1ce8" stroke="#2a2a2a" stroke-width="0.5"/>
<circle cx="138.84" cy="284.51" r="2.65" fill="#1c1ce8" stroke="#2a2a2a" stroke-width="0.5"/>
<circle cx="143.50" cy="281.55" r="2.65" fill="#1c1ce8" stroke="#2a2a2a" stroke-width="0.5"/>
<circle cx="148.15" cy="278.62" r="2.65" fill="#1c1ce8" stroke="#2a2a2a" stroke-width="0.5"/>
<circle cx="152.81" cy="276.43" r="2.65" fill="#1c1ce8" stroke="#2a2a2a" stroke-width="0.5"/>
<circle cx="157.46" cy="274.34" r="2.65" fill="#1c1ce8" stroke="#2a2a2a" stroke-width="0.5"/>
<circle cx="162.12" cy="272.17" r="2.65" fill="#1c1ce8" stroke="#2a2a2a" stroke-width="0.5"/>
<circle cx="166.77" cy="270.19" r="2.65" fill="#1c1ce8" stroke="#2a2a2a" stroke-width="0.5"/>
<circle cx="171.43" cy="268.95" r="2.65" fill="#1c1ce8" stroke="#2a2a2a" stroke-width="0.5"/>
<circle cx="176.08" cy="266.55" r="2.65" fill="#1c1ce8" stroke="#2a2a2a" stroke-width="0.5"/>
<circle cx="180.74" cy="265.14" r="2.65" fill="#1c1ce8" stroke="#2a2a2a" stroke-width="0.5"/>
<circle cx="185.39" cy="263.65" r="2.65" fill="#1c1ce8" stroke="#2a2a2a" stroke-width="0.5"/>
<circle cx="190.04" cy="262.43" r="2.65" fill="#1c1ce8" stroke="#2a2a2a" stroke-width="0.5"/>
<circle cx="73.67" cy="332.67" r="2.65" fill="#9a34cc" stroke="#2a2a2a" stroke-width="0.5"/>
<circle cx="78.33" cy="329.03" r="2.65" fill="#9a34cc" stroke="#2a2a2a" stroke-width="0.5"/>
<circle cx="82.98" cy="325.71" r="2.65" fill="#9a34cc" stroke="#2a2a2a" stroke-width="0.5"/>
<circle cx="87.64" cy="321.73" r="2.65" fill="#9a34cc" stroke="#2a2a2a" stroke-width="0.5"/>
<circle cx="92.29" cy="318.78" r="2.65" fill="#9a34cc" stroke="#2a2a2a" stroke-width="0.5"/>
<circle cx="96.94" cy="315.39" r="2.65" fill="#9a34cc" stroke="#2a2a2a" stroke-width="0.5"/>
<circle cx="101.60" cy="311.97" r="2.65" fill="#9a34cc" stroke="#2a2a2a" stroke-width="0.5"/>
<circle cx="106.25" cy="308.96" r="2.65" fill="#9a34cc" stroke="#2a2a2a" stroke-width="0.5"/>
<circle cx="110.91" cy="305.79" r="2.65" fill="#9a34cc" stroke="#2a2a2a" stroke-width="0.5"/>
<circle cx="115.56" cy="303.03" r="2.65" fill="#9a34cc" stroke="#2a2a2a" stroke-width="0.5"/>
<circle cx="120.22" cy="300.10" r="2.65" fill="#9a34cc" stroke="#2a2a2a" stroke-width="0.5"/>
<circle cx="124.88" cy="297.11" r="2.65" fill="#9a34cc" stroke="#2a2a2a" stroke-width="0.5"/>
<circle cx="129.53" cy="294.46" r="2.65" fill="#9a34cc" stroke="#2a2a2a" stroke-width="0.5"/>
<circle cx="134.19" cy="291.68" r="2.65" fill="#9a34cc" stroke="#2a2a2a" stroke-width="0.5"/>
<circle cx="138.84" cy="289.63" r="2.65" fill="#9a34cc" stroke="#2a2a2a" stroke-width="0.5"/>
<circle cx="143.50" cy="286.74" r="2.65" fill="#9a34cc" stroke="#2a2a2a" stroke-width="0.5"/>
<circle cx="148.15" cy="285.02" r="2.65" fill="#9a34cc" stroke="#2a2a2a" stroke-width="0.5"/>
<circle cx="152.81" cy="283.66" r="2.65" fill="#9a34cc" stroke="#2a2a2a" stroke-width="0.5"/>
<circle cx="157.46" cy="281.96" r="2.65" fill="#9a34cc" stroke="#2a2a2a" stroke-width="0.5"/>
<circle cx="162.12" cy="280.41" r="2.65" fill="#9a34cc" stroke="#2a2a2a" stroke-width="0.5"/>
<circle cx="166.77" cy="279.08" r="2.65" fill="#9a34cc" stroke="#2a2a2a" stroke-width="0.5"/>
<circle cx="171.43" cy="278.10" r="2.65" fill="#9a34cc" stroke="#2a2a2a" stroke-width="0.5"/>
<circle cx="176.08" cy="276.38" r="2.65" fill="#9a34cc" stroke="#2a2a2a" stroke-width="0.5"/>
<circle cx="180.74" cy="275.28" r="2.65" fill="#9a34cc" stroke="#2a2a2a" stroke-width="0.5"/>
<circle cx="185.39" cy="274.88" r="2.65" fill="#9a34cc" stroke="#2a2a2a" stroke-width="0.5"/>
<circle cx="190.04" cy="274.08" r="2.65" fill="#9a34cc" stroke="#2a2a2a" stroke-width="0.5"/>
<circle cx="73.67" cy="332.95" r="2.65" fill="#3a8a2c" stroke="#2a2a2a" stroke-width="0.5"/>
<circle cx="78.33" cy="329.29" r="2.65" fill="#3a8a2c" stroke="#2a2a2a" stroke-width="0.5"/>
<circle cx="82.98" cy="325.50" r="2.65" fill="#3a8a2c" stroke="#2a2a2a" stroke-width="0.5"/>
<circle cx="87.64" cy="322.06" r="2.65" fill="#3a8a2c" stroke="#2a2a2a" stroke-width="0.5"/>
<circle cx="92.29" cy="318.10" r="2.65" fill="#3a8a2c" stroke="#2a2a2a" stroke-width="0.5"/>
<circle cx="96.94" cy="315.31" r="2.65" fill="#3a8a2c" stroke="#2a2a2a" stroke-width="0.5"/>
<circle cx="101.60" cy="312.15" r="2.65" fill="#3a8a2c" stroke="#2a2a2a" stroke-width="0.5"/>
<circle cx="106.25" cy="308.38" r="2.65" fill="#3a8a2c" stroke="#2a2a2a" stroke-width="0.5"/>
<circle cx="110.91" cy="306.05" r="2.65" fill="#3a8a2c" stroke="#2a2a2a" stroke-width="0.5"/>
<circle cx="115.56" cy="303.89" r="2.65" fill="#3a8a2c" stroke="#2a2a2a" stroke-width="0.5"/>
<circle cx="120.22" cy="301.26" r="2.65" fill="#3a8a2c" stroke="#2a2a2a" stroke-width="0.5"/>
<circle cx="124.88" cy="299.65" r="2.65" fill="#3a8a2c" stroke="#2a2a2a" stroke-width="0.5"/>
<circle cx="129.53" cy="297.20" r="2.65" fill="#3a8a2c" stroke="#2a2a2a" stroke-width="0.5"/>
<circle cx="134.19" cy="294.73" r="2.65" fill="#3a8a2c" stroke="#2a2a2a" stroke-width="0.5"/>
<circle cx="138.84" cy="292.95" r="2.65" fill="#3a8a2c" stroke="#2a2a2a" stroke-width="0.5"/>
<circle cx="143.50" cy="291.41" r="2.65" fill="#3a8a2c" stroke="#2a2a2a" stroke-width="0.5"/>
<circle cx="148.15" cy="290.29" r="2.65" fill="#3a8a2c" stroke="#2a2a2a" stroke-width="0.5"/>
<circle cx="152.81" cy="288.85" r="2.65" fill="#3a8a2c" stroke="#2a2a2a" stroke-width="0.5"/>
<circle cx="157.46" cy="287.83" r="2.65" fill="#3a8a2c" stroke="#2a2a2a" stroke-width="0.5"/>
<circle cx="162.12" cy="286.23" r="2.65" fill="#3a8a2c" stroke="#2a2a2a" stroke-width="0.5"/>
<circle cx="166.77" cy="285.50" r="2.65" fill="#3a8a2c" stroke="#2a2a2a" stroke-width="0.5"/>
<circle cx="171.43" cy="284.44" r="2.65" fill="#3a8a2c" stroke="#2a2a2a" stroke-width="0.5"/>
<circle cx="176.08" cy="284.10" r="2.65" fill="#3a8a2c" stroke="#2a2a2a" stroke-width="0.5"/>
<circle cx="180.74" cy="283.54" r="2.65" fill="#3a8a2c" stroke="#2a2a2a" stroke-width="0.5"/>
<circle cx="185.39" cy="282.44" r="2.65" fill="#3a8a2c" stroke="#2a2a2a" stroke-width="0.5"/>
<circle cx="190.04" cy="281.78" r="2.65" fill="#3a8a2c" stroke="#2a2a2a" stroke-width="0.5"/>
<polyline points="83.75,324.78 85.50,323.45 87.25,322.13 89.00,320.83 90.75,319.53 92.50,318.24 94.25,316.96 96.00,315.69 97.75,314.43 99.50,313.17 101.25,311.95 103.00,310.74 104.75,309.53 106.50,308.29 108.25,307.00 110.00,305.65 111.75,304.23 113.50,302.74 115.25,301.18 117.00,299.56 118.75,297.88 120.50,296.17 122.25,294.43 124.00,292.68 125.75,290.95 127.50,289.27 129.25,287.66 131.00,286.15 132.75,284.71 134.50,283.29 136.25,281.90 138.00,280.53 139.75,279.18 141.50,277.85 143.25,276.55 145.00,275.27 146.75,274.01 148.50,272.77 150.25,271.55 152.00,270.36 153.75,269.19 155.50,268.04 157.25,266.91 159.00,265.80 160.75,264.71 162.50,263.65 164.25,262.60 166.00,261.58 167.75,260.57 169.50,259.59 171.25,258.62 173.00,257.68 174.75,256.75 176.50,255.85 178.25,254.96 180.00,254.09 181.75,253.24 183.50,252.41 185.25,251.59 187.00,250.80 188.75,250.02 190.50,249.25 192.25,248.51 194.00,247.78" fill="none" stroke="#111" stroke-width="1.4" stroke-linejoin="round" />
<polyline points="83.75,324.78 85.50,323.45 87.25,322.13 89.00,320.83 90.75,319.53 92.50,318.24 94.25,316.96 96.00,315.69 97.75,314.43 99.50,313.17 101.25,311.95 103.00,310.75 104.75,309.57 106.50,308.37 108.25,307.15 110.00,305.89 111.75,304.60 113.50,303.27 115.25,301.90 117.00,300.51 118.75,299.09 120.50,297.66 122.25,296.23 124.00,294.80 125.75,293.41 127.50,292.05 129.25,290.75 131.00,289.51 132.75,288.32 134.50,287.15 136.25,286.02 138.00,284.91 139.75,283.83 141.50,282.78 143.25,281.75 145.00,280.75 146.75,279.78 148.50,278.83 150.25,277.91 152.00,277.01 153.75,276.13 155.50,275.28 157.25,274.45 159.00,273.65 160.75,272.87 162.50,272.11 164.25,271.37 166.00,270.65 167.75,269.95 169.50,269.28 171.25,268.62 173.00,267.98 174.75,267.36 176.50,266.76 178.25,266.18 180.00,265.62 181.75,265.07 183.50,264.54 185.25,264.02 187.00,263.52 188.75,263.04 190.50,262.57 192.25,262.12 194.00,261.68" fill="none" stroke="#111" stroke-width="1.4" stroke-linejoin="round" />
<polyline points="83.75,324.78 85.50,323.45 87.25,322.13 89.00,320.83 90.75,319.53 92.50,318.24 94.25,316.96 96.00,315.69 97.75,314.43 99.50,313.17 101.25,311.95 103.00,310.78 104.75,309.63 106.50,308.50 108.25,307.37 110.00,306.24 111.75,305.11 113.50,303.97 115.25,302.84 117.00,301.71 118.75,300.59 120.50,299.48 122.25,298.39 124.00,297.33 125.75,296.28 127.50,295.26 129.25,294.26 131.00,293.28 132.75,292.32 134.50,291.39 136.25,290.49 138.00,289.62 139.75,288.78 141.50,287.97 143.25,287.18 145.00,286.42 146.75,285.69 148.50,284.98 150.25,284.30 152.00,283.64 153.75,283.01 155.50,282.40 157.25,281.81 159.00,281.24 160.75,280.69 162.50,280.16 164.25,279.66 166.00,279.17 167.75,278.70 169.50,278.25 171.25,277.81 173.00,277.39 174.75,276.99 176.50,276.60 178.25,276.23 180.00,275.87 181.75,275.52 183.50,275.19 185.25,274.88 187.00,274.57 188.75,274.28 190.50,274.00 192.25,273.72 194.00,273.46" fill="none" stroke="#111" stroke-width="1.4" stroke-linejoin="round" />
<polyline points="83.75,324.78 85.50,323.45 87.25,322.13 89.00,320.83 90.75,319.53 92.50,318.24 94.25,316.96 96.00,315.69 97.75,314.43 99.50,313.17 101.25,311.96 103.00,310.81 104.75,309.70 106.50,308.63 108.25,307.60 110.00,306.59 111.75,305.61 113.50,304.66 115.25,303.74 117.00,302.85 118.75,301.99 120.50,301.17 122.25,300.38 124.00,299.61 125.75,298.85 127.50,298.11 129.25,297.35 131.00,296.57 132.75,295.78 134.50,295.02 136.25,294.30 138.00,293.60 139.75,292.93 141.50,292.29 143.25,291.67 145.00,291.08 146.75,290.51 148.50,289.97 150.25,289.45 152.00,288.95 153.75,288.48 155.50,288.02 157.25,287.58 159.00,287.17 160.75,286.77 162.50,286.39 164.25,286.02 166.00,285.67 167.75,285.34 169.50,285.02 171.25,284.72 173.00,284.43 174.75,284.15 176.50,283.89 178.25,283.63 180.00,283.39 181.75,283.16 183.50,282.94 185.25,282.73 187.00,282.53 188.75,282.34 190.50,282.16 192.25,281.99 194.00,281.82" fill="none" stroke="#111" stroke-width="1.4" stroke-linejoin="round" />
<circle cx="54.00" cy="348.65" r="2.65" fill="#6ccfc6" stroke="#2a2a2a" stroke-width="0.5"/>
<circle cx="58.90" cy="343.32" r="2.65" fill="#6ccfc6" stroke="#2a2a2a" stroke-width="0.5"/>
<circle cx="63.80" cy="339.77" r="2.65" fill="#6ccfc6" stroke="#2a2a2a" stroke-width="0.5"/>
<circle cx="68.00" cy="337.26" r="2.65" fill="#6ccfc6" stroke="#2a2a2a" stroke-width="0.5"/>
<circle cx="72.55" cy="334.59" r="2.65" fill="#6ccfc6" stroke="#2a2a2a" stroke-width="0.5"/>
<circle cx="77.10" cy="332.08" r="2.65" fill="#6ccfc6" stroke="#2a2a2a" stroke-width="0.5"/>
<circle cx="81.65" cy="329.71" r="2.65" fill="#6ccfc6" stroke="#2a2a2a" stroke-width="0.5"/>
<circle cx="86.20" cy="327.19" r="2.65" fill="#6ccfc6" stroke="#2a2a2a" stroke-width="0.5"/>
<circle cx="90.75" cy="325.12" r="2.65" fill="#6ccfc6" stroke="#2a2a2a" stroke-width="0.5"/>
<circle cx="94.95" cy="322.90" r="2.65" fill="#6ccfc6" stroke="#2a2a2a" stroke-width="0.5"/>
<circle cx="99.15" cy="322.01" r="2.65" fill="#6ccfc6" stroke="#2a2a2a" stroke-width="0.5"/>
<circle cx="103.70" cy="319.94" r="2.65" fill="#6ccfc6" stroke="#2a2a2a" stroke-width="0.5"/>
<circle cx="108.25" cy="318.76" r="2.65" fill="#6ccfc6" stroke="#2a2a2a" stroke-width="0.5"/>
<circle cx="112.45" cy="318.02" r="2.65" fill="#6ccfc6" stroke="#2a2a2a" stroke-width="0.5"/>
<circle cx="117.00" cy="321.42" r="2.65" fill="#6ccfc6" stroke="#2a2a2a" stroke-width="0.5"/>
<circle cx="121.55" cy="320.51" r="2.65" fill="#6ccfc6" stroke="#2a2a2a" stroke-width="0.5"/>
<circle cx="126.20" cy="320.56" r="2.65" fill="#6ccfc6" stroke="#2a2a2a" stroke-width="0.5"/>
<circle cx="130.86" cy="320.55" r="2.65" fill="#6ccfc6" stroke="#2a2a2a" stroke-width="0.5"/>
<circle cx="135.51" cy="320.61" r="2.65" fill="#6ccfc6" stroke="#2a2a2a" stroke-width="0.5"/>
<circle cx="140.17" cy="321.07" r="2.65" fill="#6ccfc6" stroke="#2a2a2a" stroke-width="0.5"/>
<circle cx="144.82" cy="320.81" r="2.65" fill="#6ccfc6" stroke="#2a2a2a" stroke-width="0.5"/>
<circle cx="149.48" cy="320.96" r="2.65" fill="#6ccfc6" stroke="#2a2a2a" stroke-width="0.5"/>
<circle cx="154.13" cy="321.25" r="2.65" fill="#6ccfc6" stroke="#2a2a2a" stroke-width="0.5"/>
<circle cx="158.79" cy="321.25" r="2.65" fill="#6ccfc6" stroke="#2a2a2a" stroke-width="0.5"/>
<circle cx="163.44" cy="321.02" r="2.65" fill="#6ccfc6" stroke="#2a2a2a" stroke-width="0.5"/>
<circle cx="168.10" cy="321.04" r="2.65" fill="#6ccfc6" stroke="#2a2a2a" stroke-width="0.5"/>
<circle cx="172.75" cy="320.66" r="2.65" fill="#6ccfc6" stroke="#2a2a2a" stroke-width="0.5"/>
<circle cx="177.41" cy="320.42" r="2.65" fill="#6ccfc6" stroke="#2a2a2a" stroke-width="0.5"/>
<circle cx="182.06" cy="320.87" r="2.65" fill="#6ccfc6" stroke="#2a2a2a" stroke-width="0.5"/>
<circle cx="186.72" cy="320.44" r="2.65" fill="#6ccfc6" stroke="#2a2a2a" stroke-width="0.5"/>
<circle cx="191.38" cy="320.39" r="2.65" fill="#6ccfc6" stroke="#2a2a2a" stroke-width="0.5"/>
<polyline points="88.30,327.41 90.05,326.39 91.80,325.45 93.55,324.59 95.30,323.81 97.05,323.09 98.80,322.44 100.55,321.84 102.30,321.30 104.05,320.81 105.80,320.37 107.55,319.96 109.30,319.60 111.05,319.27 112.80,318.97 114.55,318.70 116.30,318.45 118.05,318.23 119.80,318.04 121.55,317.86 123.30,317.69 125.05,317.55 126.80,317.42 128.55,317.30 130.30,317.19 132.05,317.10 133.80,317.01 135.55,316.93 137.30,316.86 139.05,316.80 140.80,316.74 142.55,316.69 144.30,316.65 146.05,316.61 147.80,316.57 149.55,316.54 151.30,316.51 153.05,316.48 154.80,316.45 156.55,316.43 158.30,316.41 160.05,316.40 161.80,316.38 163.55,316.37 165.30,316.35 167.05,316.34 168.80,316.33 170.55,316.32 172.30,316.31 174.05,316.31 175.80,316.30 177.55,316.29 179.30,316.29 181.05,316.28 182.80,316.28 184.55,316.27 186.30,316.27 188.05,316.27 189.80,316.27 191.55,316.26 193.30,316.26 195.05,316.26" fill="none" stroke="#111" stroke-width="1.4" stroke-linejoin="round" />
<path d="M45.2,219.3 H194.6 V367.3 H45.2 Z" fill="none" stroke="#333" stroke-width="1.45"/>
<line x1="41.70" y1="367.30" x2="45.20" y2="367.30" stroke="#333" stroke-width="1.45" />
<text x="0.00" y="0.00" font-size="14.6" text-anchor="end" fill="#000" style="font-family:'Liberation Serif', serif" transform="translate(36.60 373.20) scale(0.89 1)" >0</text>
<line x1="41.70" y1="337.70" x2="45.20" y2="337.70" stroke="#333" stroke-width="1.45" />
<text x="0.00" y="0.00" font-size="14.6" text-anchor="end" fill="#000" style="font-family:'Liberation Serif', serif" transform="translate(36.60 343.60) scale(0.89 1)" >2</text>
<line x1="41.70" y1="308.10" x2="45.20" y2="308.10" stroke="#333" stroke-width="1.45" />
<text x="0.00" y="0.00" font-size="14.6" text-anchor="end" fill="#000" style="font-family:'Liberation Serif', serif" transform="translate(36.60 314.00) scale(0.89 1)" >4</text>
<line x1="41.70" y1="278.50" x2="45.20" y2="278.50" stroke="#333" stroke-width="1.45" />
<text x="0.00" y="0.00" font-size="14.6" text-anchor="end" fill="#000" style="font-family:'Liberation Serif', serif" transform="translate(36.60 284.40) scale(0.89 1)" >6</text>
<line x1="41.70" y1="248.90" x2="45.20" y2="248.90" stroke="#333" stroke-width="1.45" />
<text x="0.00" y="0.00" font-size="14.6" text-anchor="end" fill="#000" style="font-family:'Liberation Serif', serif" transform="translate(36.60 254.80) scale(0.89 1)" >8</text>
<line x1="41.70" y1="219.30" x2="45.20" y2="219.30" stroke="#333" stroke-width="1.45" />
<text x="0.00" y="0.00" font-size="14.6" text-anchor="end" fill="#000" style="font-family:'Liberation Serif', serif" transform="translate(36.60 225.20) scale(0.89 1)" >10</text>
<line x1="54.00" y1="367.30" x2="54.00" y2="370.80" stroke="#333" stroke-width="1.45" />
<text x="0.00" y="0.00" font-size="14.6" text-anchor="middle" fill="#000" style="font-family:'Liberation Serif', serif" transform="translate(54.00 384.90) scale(0.89 1)" >0</text>
<line x1="89.00" y1="367.30" x2="89.00" y2="370.80" stroke="#333" stroke-width="1.45" />
<text x="0.00" y="0.00" font-size="14.6" text-anchor="middle" fill="#000" style="font-family:'Liberation Serif', serif" transform="translate(89.00 384.90) scale(0.89 1)" >1</text>
<line x1="124.00" y1="367.30" x2="124.00" y2="370.80" stroke="#333" stroke-width="1.45" />
<text x="0.00" y="0.00" font-size="14.6" text-anchor="middle" fill="#000" style="font-family:'Liberation Serif', serif" transform="translate(124.00 384.90) scale(0.89 1)" >2</text>
<line x1="159.00" y1="367.30" x2="159.00" y2="370.80" stroke="#333" stroke-width="1.45" />
<text x="0.00" y="0.00" font-size="14.6" text-anchor="middle" fill="#000" style="font-family:'Liberation Serif', serif" transform="translate(159.00 384.90) scale(0.89 1)" >3</text>
<line x1="194.00" y1="367.30" x2="194.00" y2="370.80" stroke="#333" stroke-width="1.45" />
<text x="0.00" y="0.00" font-size="14.6" text-anchor="middle" fill="#000" style="font-family:'Liberation Serif', serif" transform="translate(194.00 384.90) scale(0.89 1)" >4</text>
<text x="1.00" y="203.10" font-size="16" text-anchor="start" fill="#000" style="font-family:'Liberation Serif', serif" >(c)</text>
<text x="16.00" y="283.00" font-size="14.5" text-anchor="middle" fill="#000" style="font-style:italic;font-family:'Liberation Serif', serif" transform="rotate(-90 16 283)" >R/<tspan>h</tspan><tspan font-size="10" dy="3">0</tspan></text>
<text y="395.2" font-size="17" style="font-family:'Liberation Serif', serif;font-style:italic"><tspan x="101.30">t</tspan><tspan x="106.30">/</tspan><tspan x="113.00">τ</tspan><tspan x="119.90" dy="4" font-size="11.9">i</tspan></text>
<circle cx="59.70" cy="232.40" r="3.9" fill="none" stroke="#000" stroke-width="1.3"/>
<text x="86.00" y="237.50" font-size="12.7" text-anchor="start" fill="#000" style="font-family:'Liberation Serif', serif" >MD data</text>
<line x1="55.20" y1="245.90" x2="82.20" y2="245.90" stroke="#000" stroke-width="1.1" />
<text x="93.00" y="250.00" font-size="12.7" text-anchor="start" fill="#000" style="font-family:'Liberation Serif', serif" >Fitting</text>
<text x="59.50" y="266.00" font-size="9.5" text-anchor="middle" fill="#000" style="font-style:italic;font-family:'Liberation Serif', serif" >R</text>
<line x1="55.50" y1="268.60" x2="63.50" y2="268.60" stroke="#000" stroke-width="0.6" />
<text x="59.5" y="278" font-size="9.5" text-anchor="middle" style="font-family:'Liberation Serif', serif"><tspan font-style="italic">h</tspan><tspan font-size="7" dy="2">0</tspan></text>
<text x="66" y="272.5" font-size="10" style="font-family:'Liberation Serif', serif">= <tspan font-style="italic">a</tspan> tanh</text>
<path d="M105.5,255.5 C101,262 101,277 105.5,283.5" fill="none" stroke="#000" stroke-width="0.8"/>
<path d="M124.5,255.5 C129,262 129,277 124.5,283.5" fill="none" stroke="#000" stroke-width="0.8"/>
<text x="108.30" y="272.50" font-size="10" text-anchor="start" fill="#000" style="font-style:italic;font-family:'Liberation Serif', serif" >b</text>
<text x="118.00" y="266.00" font-size="9.5" text-anchor="middle" fill="#000" style="font-style:italic;font-family:'Liberation Serif', serif" >t</text>
<line x1="114.20" y1="268.60" x2="121.80" y2="268.60" stroke="#000" stroke-width="0.6" />
<text x="117.6" y="278.5" font-size="9.5" text-anchor="middle" style="font-family:'Liberation Serif', serif;font-style:italic">τ<tspan font-size="6.5" dy="2">i</tspan></text>
<defs><linearGradient id="tg" gradientUnits="userSpaceOnUse" x1="305" y1="300" x2="388" y2="312"><stop offset="0" stop-color="#8ee3ca"/><stop offset="1" stop-color="#53987f"/></linearGradient></defs>
<path d="M301.6,312 L386.9,240.6 L387.3,312 Z" fill="url(#tg)"/>
<line x1="230.90" y1="367.50" x2="230.90" y2="224.50" stroke="#000" stroke-width="1.2" />
<path d="M230.9,219.5 L228,226.5 L233.8,226.5 Z" fill="#000"/>
<line x1="230.30" y1="367.50" x2="390.00" y2="367.50" stroke="#000" stroke-width="1.2" />
<path d="M395.5,367.5 L388.5,364.6 L388.5,370.4 Z" fill="#000"/>
<path d="M231.2,367.5 C244,366.5 252,356 262.5,345.3 L386.9,240.6" fill="none" stroke="#000" stroke-width="1.3"/>
<line x1="391.50" y1="240.60" x2="391.50" y2="308.00" stroke="#000" stroke-width="0.9" />
<path d="M391.5,312.5 L389.3,306.5 L393.7,306.5 Z" fill="#000"/>
<line x1="262.00" y1="311.10" x2="299.00" y2="311.10" stroke="#000" stroke-width="0.9" />
<path d="M259.8,311.1 L264.5,308.9 L263.5,311.1 L264.5,313.3 Z" fill="#000"/>
<path d="M301,311.1 L296.3,308.9 L297.3,311.1 L296.3,313.3 Z" fill="#000"/>
<line x1="301.10" y1="239.30" x2="301.10" y2="242.70" stroke="#000" stroke-width="0.9" />
<line x1="301.10" y1="241.00" x2="361.00" y2="241.00" stroke="#000" stroke-width="0.9" />
<path d="M363.5,241 L358.3,238.6 L359.3,241 L358.3,243.4 Z" fill="#000"/>
<text x="200.50" y="204.40" font-size="16" text-anchor="start" fill="#000" style="font-family:'Liberation Serif', serif" >(d)</text>
<text x="221.00" y="293.50" font-size="14.5" text-anchor="middle" fill="#000" style="font-style:italic;font-family:'Liberation Serif', serif" transform="rotate(-90 221 293.5)" >R/<tspan>h</tspan><tspan font-size="10" dy="3">0</tspan></text>
<text x="0" y="0" font-size="11.4" text-anchor="middle" style="font-family:'Liberation Serif', serif" transform="translate(246.3,300.3) rotate(-90)">Exponential growth</text>
<text x="0" y="0" font-size="11" text-anchor="middle" style="font-family:'Liberation Serif', serif" transform="translate(288.5,338) rotate(-40)">TC</text>
<text x="277" y="305.3" font-size="12" text-anchor="middle" style="font-family:'Liberation Serif', serif"><tspan font-style="italic">β</tspan> = 1</text>
<text x="332.5" y="256.3" font-size="12" text-anchor="middle" style="font-family:'Liberation Serif', serif"><tspan font-style="italic">β</tspan> = <tspan font-style="italic">β</tspan>(<tspan font-style="italic">n</tspan>, <tspan font-style="italic">t</tspan>) &lt; 1</text>
<text x="380.5" y="237.8" font-size="12" text-anchor="middle" style="font-family:'Liberation Serif', serif"><tspan font-style="italic">n</tspan> = 0</text>
<text x="362" y="290" font-size="11" text-anchor="middle" fill="#10201a" style="font-family:'Liberation Serif', serif">Frustrated</text>
<text x="362" y="302.2" font-size="11" text-anchor="middle" fill="#10201a" style="font-family:'Liberation Serif', serif">growth</text>
<text x="373.5" y="321" font-size="12" text-anchor="middle" style="font-family:'Liberation Serif', serif"><tspan font-style="italic">n</tspan> = <tspan font-style="italic">n</tspan><tspan font-size="8.5" dy="2.5">max</tspan></text>
<text y="395.5" font-size="17" style="font-family:'Liberation Serif', serif;font-style:italic"><tspan x="308.70">t</tspan><tspan x="313.70">/</tspan><tspan x="320.40">τ</tspan><tspan x="327.30" dy="4" font-size="11.9">i</tspan></text>
<text x="415.00" y="14.20" font-size="16" text-anchor="start" fill="#000" style="font-family:'Liberation Serif', serif" >(e)</text>
<rect x="432.2" y="32" width="76.7" height="73.0" fill="#000" filter="url(#texE)"/>
<text x="0" y="0" font-size="12" text-anchor="middle" style="font-family:'Liberation Serif', serif" transform="translate(427,65.5) rotate(-90)"><tspan font-style="italic">t</tspan>/<tspan font-style="italic">τ</tspan><tspan font-size="8" dy="2.5">i</tspan><tspan dy="-2.5"> = 0.5</tspan></text>
<rect x="432.2" y="112.2" width="76.7" height="71.0" fill="#000" filter="url(#texE)"/>
<text x="0" y="0" font-size="12" text-anchor="middle" style="font-family:'Liberation Serif', serif" transform="translate(427,144.7) rotate(-90)"><tspan font-style="italic">t</tspan>/<tspan font-style="italic">τ</tspan><tspan font-size="8" dy="2.5">i</tspan><tspan dy="-2.5"> = 3</tspan></text>
<rect x="432.2" y="192" width="76.7" height="72.5" fill="#000" filter="url(#texE)"/>
<text x="0" y="0" font-size="12" text-anchor="middle" style="font-family:'Liberation Serif', serif" transform="translate(427,225.2) rotate(-90)"><tspan font-style="italic">t</tspan>/<tspan font-style="italic">τ</tspan><tspan font-size="8" dy="2.5">i</tspan><tspan dy="-2.5"> = 3.5</tspan></text>
<rect x="432.2" y="271" width="76.7" height="72.7" fill="#000" filter="url(#texE)"/>
<text x="0" y="0" font-size="12" text-anchor="middle" style="font-family:'Liberation Serif', serif" transform="translate(427,304.4) rotate(-90)"><tspan font-style="italic">t</tspan>/<tspan font-style="italic">τ</tspan><tspan font-size="8" dy="2.5">i</tspan><tspan dy="-2.5"> = 5</tspan></text>
<ellipse cx="470.5" cy="70.5" rx="6.5" ry="13.5" fill="#bcd888" opacity="0.8" filter="url(#blur1)"/>
<ellipse cx="470.5" cy="70.5" rx="4.6" ry="11.3" fill="#e2cc68" filter="url(#blur05)"/>
<ellipse cx="470.5" cy="70.5" rx="3.0" ry="9.0" fill="#e4a070" opacity="0.8" filter="url(#blur05)"/>
<circle cx="470.50" cy="64.00" r="2.1" fill="#000" stroke="none" stroke-width="0"/>
<circle cx="470.50" cy="70.40" r="2.1" fill="#000" stroke="none" stroke-width="0"/>
<circle cx="470.50" cy="76.70" r="2.1" fill="#000" stroke="none" stroke-width="0"/>
<g fill="#bcdc88" stroke="#bcdc88" stroke-width="10.4" stroke-linejoin="round" filter="url(#blur1)"><rect x="464.3" y="135.8" width="12.6" height="9.6" rx="5"/><rect x="464.4" y="146.6" width="12.4" height="4.2" rx="2"/><rect x="464" y="152.2" width="13.2" height="8.7" rx="5"/></g>
<g fill="#e4d460" stroke="#e4d460" stroke-width="8.6" stroke-linejoin="round" filter="url(#blur05)"><rect x="464.3" y="135.8" width="12.6" height="9.6" rx="5"/><rect x="464.4" y="146.6" width="12.4" height="4.2" rx="2"/><rect x="464" y="152.2" width="13.2" height="8.7" rx="5"/></g>
<g fill="#f0a850" stroke="#f0a850" stroke-width="6.2" stroke-linejoin="round" filter="url(#blur05)"><rect x="464.3" y="135.8" width="12.6" height="9.6" rx="5"/><rect x="464.4" y="146.6" width="12.4" height="4.2" rx="2"/><rect x="464" y="152.2" width="13.2" height="8.7" rx="5"/></g>
<g fill="#e85a8c" stroke="#e85a8c" stroke-width="3.8" stroke-linejoin="round" filter="url(#blur05)"><rect x="464.3" y="135.8" width="12.6" height="9.6" rx="5"/><rect x="464.4" y="146.6" width="12.4" height="4.2" rx="2"/><rect x="464" y="152.2" width="13.2" height="8.7" rx="5"/></g>
<g fill="#9048d0" stroke="#9048d0" stroke-width="1.8" stroke-linejoin="round"><rect x="464.3" y="135.8" width="12.6" height="9.6" rx="5"/><rect x="464.4" y="146.6" width="12.4" height="4.2" rx="2"/><rect x="464" y="152.2" width="13.2" height="8.7" rx="5"/></g>
<rect x="465" y="144" width="11" height="10" fill="#c04890"/>
<g fill="#000"><rect x="464.3" y="135.8" width="12.6" height="9.6" rx="5"/><rect x="464.4" y="146.6" width="12.4" height="4.2" rx="2"/><rect x="464" y="152.2" width="13.2" height="8.7" rx="5"/></g>
<g fill="#bcdc88" stroke="#bcdc88" stroke-width="10.4" stroke-linejoin="round" filter="url(#blur1)"><rect x="464.2" y="214.2" width="13.2" height="9.6" rx="5"/><rect x="464.6" y="224.2" width="12.8" height="5.2" rx="2.4"/><rect x="463.2" y="230.8" width="15.2" height="10" rx="5.5"/></g>
<g fill="#e4d460" stroke="#e4d460" stroke-width="8.6" stroke-linejoin="round" filter="url(#blur05)"><rect x="464.2" y="214.2" width="13.2" height="9.6" rx="5"/><rect x="464.6" y="224.2" width="12.8" height="5.2" rx="2.4"/><rect x="463.2" y="230.8" width="15.2" height="10" rx="5.5"/></g>
<g fill="#f0a850" stroke="#f0a850" stroke-width="6.2" stroke-linejoin="round" filter="url(#blur05)"><rect x="464.2" y="214.2" width="13.2" height="9.6" rx="5"/><rect x="464.6" y="224.2" width="12.8" height="5.2" rx="2.4"/><rect x="463.2" y="230.8" width="15.2" height="10" rx="5.5"/></g>
<g fill="#e85a8c" stroke="#e85a8c" stroke-width="3.8" stroke-linejoin="round" filter="url(#blur05)"><rect x="464.2" y="214.2" width="13.2" height="9.6" rx="5"/><rect x="464.6" y="224.2" width="12.8" height="5.2" rx="2.4"/><rect x="463.2" y="230.8" width="15.2" height="10" rx="5.5"/></g>
<g fill="#9048d0" stroke="#9048d0" stroke-width="1.8" stroke-linejoin="round"><rect x="464.2" y="214.2" width="13.2" height="9.6" rx="5"/><rect x="464.6" y="224.2" width="12.8" height="5.2" rx="2.4"/><rect x="463.2" y="230.8" width="15.2" height="10" rx="5.5"/></g>
<rect x="465" y="222" width="11" height="10" fill="#c04890"/>
<g fill="#000"><rect x="464.2" y="214.2" width="13.2" height="9.6" rx="5"/><rect x="464.6" y="224.2" width="12.8" height="5.2" rx="2.4"/><rect x="463.2" y="230.8" width="15.2" height="10" rx="5.5"/></g>
<g fill="#bcdc88" stroke="#bcdc88" stroke-width="19.0" stroke-linejoin="round" filter="url(#blur1)"><path d="M459.6,298 C459.6,285 480.8,285 480.8,298 C480.8,303 480.0,305 480.0,307.5 C480.0,310 480.8,312 480.8,316 C480.8,328.5 459.4,328.5 459.4,316 C459.4,312 460.4,310 460.4,307.5 C460.4,305 459.6,303 459.6,298 Z"/></g>
<g fill="#e4d460" stroke="#e4d460" stroke-width="12.8" stroke-linejoin="round" filter="url(#blur05)"><path d="M459.6,298 C459.6,285 480.8,285 480.8,298 C480.8,303 480.0,305 480.0,307.5 C480.0,310 480.8,312 480.8,316 C480.8,328.5 459.4,328.5 459.4,316 C459.4,312 460.4,310 460.4,307.5 C460.4,305 459.6,303 459.6,298 Z"/></g>
<g fill="#f0a850" stroke="#f0a850" stroke-width="10.4" stroke-linejoin="round" filter="url(#blur05)"><path d="M459.6,298 C459.6,285 480.8,285 480.8,298 C480.8,303 480.0,305 480.0,307.5 C480.0,310 480.8,312 480.8,316 C480.8,328.5 459.4,328.5 459.4,316 C459.4,312 460.4,310 460.4,307.5 C460.4,305 459.6,303 459.6,298 Z"/></g>
<g fill="#e85a8c" stroke="#e85a8c" stroke-width="8.4" stroke-linejoin="round" filter="url(#blur05)"><path d="M459.6,298 C459.6,285 480.8,285 480.8,298 C480.8,303 480.0,305 480.0,307.5 C480.0,310 480.8,312 480.8,316 C480.8,328.5 459.4,328.5 459.4,316 C459.4,312 460.4,310 460.4,307.5 C460.4,305 459.6,303 459.6,298 Z"/></g>
<g fill="#8848d4" stroke="#8848d4" stroke-width="6.6" stroke-linejoin="round" filter="url(#blur05)"><path d="M459.6,298 C459.6,285 480.8,285 480.8,298 C480.8,303 480.0,305 480.0,307.5 C480.0,310 480.8,312 480.8,316 C480.8,328.5 459.4,328.5 459.4,316 C459.4,312 460.4,310 460.4,307.5 C460.4,305 459.6,303 459.6,298 Z"/></g>
<g fill="#d8c070" stroke="#d8c070" stroke-width="4.6" stroke-linejoin="round" filter="url(#blur05)"><path d="M459.6,298 C459.6,285 480.8,285 480.8,298 C480.8,303 480.0,305 480.0,307.5 C480.0,310 480.8,312 480.8,316 C480.8,328.5 459.4,328.5 459.4,316 C459.4,312 460.4,310 460.4,307.5 C460.4,305 459.6,303 459.6,298 Z"/></g>
<g fill="#90d888" stroke="#90d888" stroke-width="2.4" stroke-linejoin="round" filter="url(#blur05)"><path d="M459.6,298 C459.6,285 480.8,285 480.8,298 C480.8,303 480.0,305 480.0,307.5 C480.0,310 480.8,312 480.8,316 C480.8,328.5 459.4,328.5 459.4,316 C459.4,312 460.4,310 460.4,307.5 C460.4,305 459.6,303 459.6,298 Z"/></g>
<g fill="#000"><path d="M459.6,298 C459.6,285 480.8,285 480.8,298 C480.8,303 480.0,305 480.0,307.5 C480.0,310 480.8,312 480.8,316 C480.8,328.5 459.4,328.5 459.4,316 C459.4,312 460.4,310 460.4,307.5 C460.4,305 459.6,303 459.6,298 Z"/></g>
<path d="M459.6,298 C459.6,285 480.8,285 480.8,298 C480.8,303 480.0,305 480.0,307.5 C480.0,310 480.8,312 480.8,316 C480.8,328.5 459.4,328.5 459.4,316 C459.4,312 460.4,310 460.4,307.5 C460.4,305 459.6,303 459.6,298 Z" fill="none" stroke="#e8d8b0" stroke-width="0.6"/>
<text x="517.00" y="14.20" font-size="16" text-anchor="start" fill="#000" style="font-family:'Liberation Serif', serif" >(f)</text>
<clipPath id="cf0"><rect x="533.9" y="31.9" width="74.4" height="73.3"/></clipPath>
<rect x="533.9" y="31.9" width="74.4" height="73.3" fill="#000" filter="url(#texF1)"/>
<text x="0" y="0" font-size="12" text-anchor="middle" style="font-family:'Liberation Serif', serif" transform="translate(525,65.5) rotate(-90)"><tspan font-style="italic">t</tspan>/<tspan font-style="italic">τ</tspan><tspan font-size="8" dy="2.5">i</tspan><tspan dy="-2.5"> = 4.0</tspan></text>
<clipPath id="cf1"><rect x="533.9" y="112" width="74.4" height="72.0"/></clipPath>
<rect x="533.9" y="112" width="74.4" height="72.0" fill="#000" filter="url(#texF2)"/>
<text x="0" y="0" font-size="12" text-anchor="middle" style="font-family:'Liberation Serif', serif" transform="translate(525,145.0) rotate(-90)"><tspan font-style="italic">t</tspan>/<tspan font-style="italic">τ</tspan><tspan font-size="8" dy="2.5">i</tspan><tspan dy="-2.5"> = 6.0</tspan></text>
<clipPath id="cf2"><rect x="533.9" y="192" width="74.4" height="72.7"/></clipPath>
<rect x="533.9" y="192" width="74.4" height="72.7" fill="#000" filter="url(#texF3)"/>
<text x="0" y="0" font-size="12" text-anchor="middle" style="font-family:'Liberation Serif', serif" transform="translate(525,225.3) rotate(-90)"><tspan font-style="italic">t</tspan>/<tspan font-style="italic">τ</tspan><tspan font-size="8" dy="2.5">i</tspan><tspan dy="-2.5"> = 8.0</tspan></text>
<clipPath id="cf3"><rect x="533.9" y="271" width="74.4" height="73.2"/></clipPath>
<rect x="533.9" y="271" width="74.4" height="73.2" fill="#000" filter="url(#texF4)"/>
<text x="0" y="0" font-size="12" text-anchor="middle" style="font-family:'Liberation Serif', serif" transform="translate(525,304.6) rotate(-90)"><tspan font-style="italic">t</tspan>/<tspan font-style="italic">τ</tspan><tspan font-size="8" dy="2.5">i</tspan><tspan dy="-2.5"> = 12</tspan></text>
<g clip-path="url(#cf0)">
<ellipse cx="556" cy="33" rx="6.05" ry="5.05" fill="#a06030"/>
<ellipse cx="539.3" cy="46.3" rx="4.15" ry="4.15" fill="#a06030"/>
<ellipse cx="556" cy="45.8" rx="4.75" ry="4.75" fill="#a06030"/>
<ellipse cx="574.3" cy="50.2" rx="7.05" ry="7.05" fill="#a06030"/>
<ellipse cx="593.5" cy="33.5" rx="4.15" ry="3.85" fill="#a06030"/>
<ellipse cx="599.2" cy="45" rx="5.25" ry="8.05" fill="#a06030"/>
<ellipse cx="540.6" cy="56.9" rx="4.75" ry="4.75" fill="#a06030"/>
<ellipse cx="551.2" cy="58.4" rx="3.55" ry="3.75" fill="#a06030"/>
<ellipse cx="602.7" cy="56.9" rx="4.15" ry="4.15" fill="#a06030"/>
<ellipse cx="563.7" cy="66.5" rx="5.45" ry="5.45" fill="#a06030"/>
<ellipse cx="601.2" cy="73.2" rx="7.35" ry="7.35" fill="#a06030"/>
<ellipse cx="544.5" cy="75.1" rx="4.15" ry="4.15" fill="#a06030"/>
<ellipse cx="582.3" cy="75.3" rx="3.15" ry="3.15" fill="#a06030"/>
<ellipse cx="567.5" cy="41.5" rx="2.75" ry="2.75" fill="#a06030"/>
<ellipse cx="571.4" cy="85.7" rx="5.05" ry="5.25" fill="#a06030"/>
<ellipse cx="549.3" cy="87.6" rx="4.15" ry="4.25" fill="#a06030"/>
<ellipse cx="579.1" cy="90.5" rx="5.45" ry="5.45" fill="#a06030"/>
<ellipse cx="537.4" cy="96.9" rx="3.55" ry="3.55" fill="#a06030"/>
<ellipse cx="555.1" cy="103.6" rx="5.75" ry="4.75" fill="#a06030"/>
<ellipse cx="583.9" cy="100.7" rx="4.75" ry="4.75" fill="#a06030"/>
<ellipse cx="595.4" cy="104.5" rx="3.55" ry="3.25" fill="#a06030"/>
<ellipse cx="561.8" cy="74.6" rx="2.75" ry="2.75" fill="#a06030"/>
<ellipse cx="560.8" cy="81" rx="2.75" ry="2.75" fill="#a06030"/>
<ellipse cx="560.4" cy="91.9" rx="2.45" ry="2.45" fill="#a06030"/>
<ellipse cx="587.7" cy="46.3" rx="2.45" ry="2.45" fill="#a06030"/>
<ellipse cx="556" cy="33" rx="5.6" ry="4.6" fill="#f2ead0"/>
<ellipse cx="539.3" cy="46.3" rx="3.6999999999999997" ry="3.6999999999999997" fill="#f2ead0"/>
<ellipse cx="556" cy="45.8" rx="4.3" ry="4.3" fill="#f2ead0"/>
<ellipse cx="574.3" cy="50.2" rx="6.6" ry="6.6" fill="#f2ead0"/>
<ellipse cx="593.5" cy="33.5" rx="3.6999999999999997" ry="3.4" fill="#f2ead0"/>
<ellipse cx="599.2" cy="45" rx="4.8" ry="7.6" fill="#f2ead0"/>
<ellipse cx="540.6" cy="56.9" rx="4.3" ry="4.3" fill="#f2ead0"/>
<ellipse cx="551.2" cy="58.4" rx="3.0999999999999996" ry="3.3" fill="#f2ead0"/>
<ellipse cx="602.7" cy="56.9" rx="3.6999999999999997" ry="3.6999999999999997" fill="#f2ead0"/>
<ellipse cx="563.7" cy="66.5" rx="5.0" ry="5.0" fill="#f2ead0"/>
<ellipse cx="601.2" cy="73.2" rx="6.8999999999999995" ry="6.8999999999999995" fill="#f2ead0"/>
<ellipse cx="544.5" cy="75.1" rx="3.6999999999999997" ry="3.6999999999999997" fill="#f2ead0"/>
<ellipse cx="582.3" cy="75.3" rx="2.6999999999999997" ry="2.6999999999999997" fill="#f2ead0"/>
<ellipse cx="567.5" cy="41.5" rx="2.3" ry="2.3" fill="#f2ead0"/>
<ellipse cx="571.4" cy="85.7" rx="4.6" ry="4.8" fill="#f2ead0"/>
<ellipse cx="549.3" cy="87.6" rx="3.6999999999999997" ry="3.8" fill="#f2ead0"/>
<ellipse cx="579.1" cy="90.5" rx="5.0" ry="5.0" fill="#f2ead0"/>
<ellipse cx="537.4" cy="96.9" rx="3.0999999999999996" ry="3.0999999999999996" fill="#f2ead0"/>
<ellipse cx="555.1" cy="103.6" rx="5.3" ry="4.3" fill="#f2ead0"/>
<ellipse cx="583.9" cy="100.7" rx="4.3" ry="4.3" fill="#f2ead0"/>
<ellipse cx="595.4" cy="104.5" rx="3.0999999999999996" ry="2.8" fill="#f2ead0"/>
<ellipse cx="561.8" cy="74.6" rx="2.3" ry="2.3" fill="#f2ead0"/>
<ellipse cx="560.8" cy="81" rx="2.3" ry="2.3" fill="#f2ead0"/>
<ellipse cx="560.4" cy="91.9" rx="2.0" ry="2.0" fill="#f2ead0"/>
<ellipse cx="587.7" cy="46.3" rx="2.0" ry="2.0" fill="#f2ead0"/>
<ellipse cx="556" cy="33" rx="4.6" ry="3.5999999999999996" fill="#000"/>
<ellipse cx="539.3" cy="46.3" rx="2.6999999999999997" ry="2.6999999999999997" fill="#000"/>
<ellipse cx="556" cy="45.8" rx="3.3" ry="3.3" fill="#000"/>
<ellipse cx="574.3" cy="50.2" rx="5.6" ry="5.6" fill="#000"/>
<ellipse cx="593.5" cy="33.5" rx="2.6999999999999997" ry="2.4" fill="#000"/>
<ellipse cx="599.2" cy="45" rx="3.8" ry="6.6" fill="#000"/>
<ellipse cx="540.6" cy="56.9" rx="3.3" ry="3.3" fill="#000"/>
<ellipse cx="551.2" cy="58.4" rx="2.0999999999999996" ry="2.3" fill="#000"/>
<ellipse cx="602.7" cy="56.9" rx="2.6999999999999997" ry="2.6999999999999997" fill="#000"/>
<ellipse cx="563.7" cy="66.5" rx="4.0" ry="4.0" fill="#000"/>
<ellipse cx="601.2" cy="73.2" rx="5.8999999999999995" ry="5.8999999999999995" fill="#000"/>
<ellipse cx="544.5" cy="75.1" rx="2.6999999999999997" ry="2.6999999999999997" fill="#000"/>
<ellipse cx="582.3" cy="75.3" rx="1.7" ry="1.7" fill="#000"/>
<ellipse cx="567.5" cy="41.5" rx="1.3" ry="1.3" fill="#000"/>
<ellipse cx="571.4" cy="85.7" rx="3.5999999999999996" ry="3.8" fill="#000"/>
<ellipse cx="549.3" cy="87.6" rx="2.6999999999999997" ry="2.8" fill="#000"/>
<ellipse cx="579.1" cy="90.5" rx="4.0" ry="4.0" fill="#000"/>
<ellipse cx="537.4" cy="96.9" rx="2.0999999999999996" ry="2.0999999999999996" fill="#000"/>
<ellipse cx="555.1" cy="103.6" rx="4.3" ry="3.3" fill="#000"/>
<ellipse cx="583.9" cy="100.7" rx="3.3" ry="3.3" fill="#000"/>
<ellipse cx="595.4" cy="104.5" rx="2.0999999999999996" ry="1.8" fill="#000"/>
<ellipse cx="561.8" cy="74.6" rx="1.3" ry="1.3" fill="#000"/>
<ellipse cx="560.8" cy="81" rx="1.3" ry="1.3" fill="#000"/>
<ellipse cx="560.4" cy="91.9" rx="1.0" ry="1.0" fill="#000"/>
<ellipse cx="587.7" cy="46.3" rx="1.0" ry="1.0" fill="#000"/>
</g>
<g clip-path="url(#cf1)">
<ellipse cx="556" cy="115.4" rx="10.6" ry="6.8" fill="#3a7ad8"/>
<ellipse cx="597.3" cy="121.1" rx="10.6" ry="12.6" fill="#3a7ad8"/>
<ellipse cx="540.1" cy="125.4" rx="7.8" ry="7.4" fill="#3a7ad8"/>
<ellipse cx="556" cy="127.3" rx="7.8" ry="7.8" fill="#3a7ad8"/>
<ellipse cx="575.2" cy="130.7" rx="11.2" ry="11.6" fill="#3a7ad8"/>
<ellipse cx="540.6" cy="138.4" rx="7.4" ry="7.4" fill="#3a7ad8"/>
<ellipse cx="551.8" cy="139.2" rx="4.9" ry="5.8" fill="#3a7ad8"/>
<ellipse cx="568.5" cy="121.1" rx="4.3" ry="4.3" fill="#3a7ad8"/>
<ellipse cx="572.5" cy="115.5" rx="3.8" ry="3.5" fill="#3a7ad8"/>
<ellipse cx="601.2" cy="137.9" rx="6.8" ry="5.5" fill="#3a7ad8"/>
<ellipse cx="563.7" cy="147.5" rx="9.3" ry="9.3" fill="#3a7ad8"/>
<ellipse cx="600.2" cy="154.6" rx="10.1" ry="10.6" fill="#3a7ad8"/>
<ellipse cx="545.8" cy="155.7" rx="7.4" ry="7.4" fill="#3a7ad8"/>
<ellipse cx="582" cy="154.6" rx="5.5" ry="5.5" fill="#3a7ad8"/>
<ellipse cx="535.2" cy="156.1" rx="4.0" ry="6.2" fill="#3a7ad8"/>
<ellipse cx="560.8" cy="160.9" rx="4.9" ry="4.3" fill="#3a7ad8"/>
<ellipse cx="571.4" cy="166.7" rx="7.8" ry="8.7" fill="#3a7ad8"/>
<ellipse cx="549.3" cy="168.6" rx="7.8" ry="7.4" fill="#3a7ad8"/>
<ellipse cx="581" cy="171.1" rx="7.8" ry="7.8" fill="#3a7ad8"/>
<ellipse cx="560.8" cy="171.9" rx="3.9" ry="3.9" fill="#3a7ad8"/>
<ellipse cx="537.8" cy="177.2" rx="5.8" ry="6.8" fill="#3a7ad8"/>
<ellipse cx="554.1" cy="183" rx="9.7" ry="7.0" fill="#3a7ad8"/>
<ellipse cx="582.9" cy="182" rx="7.8" ry="6.0" fill="#3a7ad8"/>
<ellipse cx="594.4" cy="182" rx="6.2" ry="6.0" fill="#3a7ad8"/>
<ellipse cx="556" cy="115.4" rx="9.5" ry="5.7" fill="#c88048"/>
<ellipse cx="597.3" cy="121.1" rx="9.5" ry="11.5" fill="#c88048"/>
<ellipse cx="540.1" cy="125.4" rx="6.7" ry="6.300000000000001" fill="#c88048"/>
<ellipse cx="556" cy="127.3" rx="6.7" ry="6.7" fill="#c88048"/>
<ellipse cx="575.2" cy="130.7" rx="10.1" ry="10.5" fill="#c88048"/>
<ellipse cx="540.6" cy="138.4" rx="6.300000000000001" ry="6.300000000000001" fill="#c88048"/>
<ellipse cx="551.8" cy="139.2" rx="3.8" ry="4.7" fill="#c88048"/>
<ellipse cx="568.5" cy="121.1" rx="3.1999999999999997" ry="3.1999999999999997" fill="#c88048"/>
<ellipse cx="572.5" cy="115.5" rx="2.7" ry="2.4" fill="#c88048"/>
<ellipse cx="601.2" cy="137.9" rx="5.7" ry="4.4" fill="#c88048"/>
<ellipse cx="563.7" cy="147.5" rx="8.2" ry="8.2" fill="#c88048"/>
<ellipse cx="600.2" cy="154.6" rx="9.0" ry="9.5" fill="#c88048"/>
<ellipse cx="545.8" cy="155.7" rx="6.300000000000001" ry="6.300000000000001" fill="#c88048"/>
<ellipse cx="582" cy="154.6" rx="4.4" ry="4.4" fill="#c88048"/>
<ellipse cx="535.2" cy="156.1" rx="2.9" ry="5.1000000000000005" fill="#c88048"/>
<ellipse cx="560.8" cy="160.9" rx="3.8" ry="3.1999999999999997" fill="#c88048"/>
<ellipse cx="571.4" cy="166.7" rx="6.7" ry="7.6000000000000005" fill="#c88048"/>
<ellipse cx="549.3" cy="168.6" rx="6.7" ry="6.300000000000001" fill="#c88048"/>
<ellipse cx="581" cy="171.1" rx="6.7" ry="6.7" fill="#c88048"/>
<ellipse cx="560.8" cy="171.9" rx="2.8" ry="2.8" fill="#c88048"/>
<ellipse cx="537.8" cy="177.2" rx="4.7" ry="5.7" fill="#c88048"/>
<ellipse cx="554.1" cy="183" rx="8.6" ry="5.9" fill="#c88048"/>
<ellipse cx="582.9" cy="182" rx="6.7" ry="4.9" fill="#c88048"/>
<ellipse cx="594.4" cy="182" rx="5.1000000000000005" ry="4.9" fill="#c88048"/>
<ellipse cx="556" cy="115.4" rx="9.05" ry="5.25" fill="#f2ead0"/>
<ellipse cx="597.3" cy="121.1" rx="9.05" ry="11.05" fill="#f2ead0"/>
<ellipse cx="540.1" cy="125.4" rx="6.25" ry="5.8500000000000005" fill="#f2ead0"/>
<ellipse cx="556" cy="127.3" rx="6.25" ry="6.25" fill="#f2ead0"/>
<ellipse cx="575.2" cy="130.7" rx="9.65" ry="10.05" fill="#f2ead0"/>
<ellipse cx="540.6" cy="138.4" rx="5.8500000000000005" ry="5.8500000000000005" fill="#f2ead0"/>
<ellipse cx="551.8" cy="139.2" rx="3.3499999999999996" ry="4.25" fill="#f2ead0"/>
<ellipse cx="568.5" cy="121.1" rx="2.7499999999999996" ry="2.7499999999999996" fill="#f2ead0"/>
<ellipse cx="572.5" cy="115.5" rx="2.25" ry="1.95" fill="#f2ead0"/>
<ellipse cx="601.2" cy="137.9" rx="5.25" ry="3.9499999999999997" fill="#f2ead0"/>
<ellipse cx="563.7" cy="147.5" rx="7.75" ry="7.75" fill="#f2ead0"/>
<ellipse cx="600.2" cy="154.6" rx="8.55" ry="9.05" fill="#f2ead0"/>
<ellipse cx="545.8" cy="155.7" rx="5.8500000000000005" ry="5.8500000000000005" fill="#f2ead0"/>
<ellipse cx="582" cy="154.6" rx="3.9499999999999997" ry="3.9499999999999997" fill="#f2ead0"/>
<ellipse cx="535.2" cy="156.1" rx="2.4499999999999997" ry="4.65" fill="#f2ead0"/>
<ellipse cx="560.8" cy="160.9" rx="3.3499999999999996" ry="2.7499999999999996" fill="#f2ead0"/>
<ellipse cx="571.4" cy="166.7" rx="6.25" ry="7.15" fill="#f2ead0"/>
<ellipse cx="549.3" cy="168.6" rx="6.25" ry="5.8500000000000005" fill="#f2ead0"/>
<ellipse cx="581" cy="171.1" rx="6.25" ry="6.25" fill="#f2ead0"/>
<ellipse cx="560.8" cy="171.9" rx="2.3499999999999996" ry="2.3499999999999996" fill="#f2ead0"/>
<ellipse cx="537.8" cy="177.2" rx="4.25" ry="5.25" fill="#f2ead0"/>
<ellipse cx="554.1" cy="183" rx="8.15" ry="5.45" fill="#f2ead0"/>
<ellipse cx="582.9" cy="182" rx="6.25" ry="4.45" fill="#f2ead0"/>
<ellipse cx="594.4" cy="182" rx="4.65" ry="4.45" fill="#f2ead0"/>
<ellipse cx="556" cy="115.4" rx="8.25" ry="4.449999999999999" fill="#000"/>
<ellipse cx="597.3" cy="121.1" rx="8.25" ry="10.25" fill="#000"/>
<ellipse cx="540.1" cy="125.4" rx="5.449999999999999" ry="5.05" fill="#000"/>
<ellipse cx="556" cy="127.3" rx="5.449999999999999" ry="5.449999999999999" fill="#000"/>
<ellipse cx="575.2" cy="130.7" rx="8.85" ry="9.25" fill="#000"/>
<ellipse cx="540.6" cy="138.4" rx="5.05" ry="5.05" fill="#000"/>
<ellipse cx="551.8" cy="139.2" rx="2.55" ry="3.4499999999999997" fill="#000"/>
<ellipse cx="568.5" cy="121.1" rx="1.95" ry="1.95" fill="#000"/>
<ellipse cx="572.5" cy="115.5" rx="1.45" ry="1.1500000000000001" fill="#000"/>
<ellipse cx="601.2" cy="137.9" rx="4.449999999999999" ry="3.15" fill="#000"/>
<ellipse cx="563.7" cy="147.5" rx="6.949999999999999" ry="6.949999999999999" fill="#000"/>
<ellipse cx="600.2" cy="154.6" rx="7.749999999999999" ry="8.25" fill="#000"/>
<ellipse cx="545.8" cy="155.7" rx="5.05" ry="5.05" fill="#000"/>
<ellipse cx="582" cy="154.6" rx="3.15" ry="3.15" fill="#000"/>
<ellipse cx="535.2" cy="156.1" rx="1.6500000000000001" ry="3.85" fill="#000"/>
<ellipse cx="560.8" cy="160.9" rx="2.55" ry="1.95" fill="#000"/>
<ellipse cx="571.4" cy="166.7" rx="5.449999999999999" ry="6.35" fill="#000"/>
<ellipse cx="549.3" cy="168.6" rx="5.449999999999999" ry="5.05" fill="#000"/>
<ellipse cx="581" cy="171.1" rx="5.449999999999999" ry="5.449999999999999" fill="#000"/>
<ellipse cx="560.8" cy="171.9" rx="1.55" ry="1.55" fill="#000"/>
<ellipse cx="537.8" cy="177.2" rx="3.4499999999999997" ry="4.449999999999999" fill="#000"/>
<ellipse cx="554.1" cy="183" rx="7.35" ry="4.6499999999999995" fill="#000"/>
<ellipse cx="582.9" cy="182" rx="5.449999999999999" ry="3.65" fill="#000"/>
<ellipse cx="594.4" cy="182" rx="3.85" ry="3.65" fill="#000"/>
</g>
<g clip-path="url(#cf2)">
<ellipse cx="556" cy="195.4" rx="13.0" ry="7.4" fill="#60c8d8"/>
<ellipse cx="597.3" cy="201.5" rx="12.0" ry="13.0" fill="#60c8d8"/>
<ellipse cx="540.6" cy="205" rx="7.199999999999999" ry="7.800000000000001" fill="#60c8d8"/>
<ellipse cx="556" cy="207.7" rx="7.800000000000001" ry="7.800000000000001" fill="#60c8d8"/>
<ellipse cx="576.2" cy="211.1" rx="13.0" ry="13.5" fill="#60c8d8"/>
<ellipse cx="541.2" cy="217.9" rx="8.2" ry="7.800000000000001" fill="#60c8d8"/>
<ellipse cx="551.6" cy="219.8" rx="5.3" ry="5.9" fill="#60c8d8"/>
<ellipse cx="601.2" cy="217.9" rx="7.199999999999999" ry="5.3" fill="#60c8d8"/>
<ellipse cx="564.7" cy="228" rx="10.5" ry="10.1" fill="#60c8d8"/>
<ellipse cx="600.2" cy="236.1" rx="11.0" ry="13.9" fill="#60c8d8"/>
<ellipse cx="545.8" cy="235.7" rx="7.800000000000001" ry="8.2" fill="#60c8d8"/>
<ellipse cx="582.3" cy="233.8" rx="5.9" ry="6.199999999999999" fill="#60c8d8"/>
<ellipse cx="535" cy="238" rx="4.2" ry="7.9" fill="#60c8d8"/>
<ellipse cx="560.8" cy="240.9" rx="5.3" ry="4.699999999999999" fill="#60c8d8"/>
<ellipse cx="573.3" cy="247.6" rx="11.0" ry="11.0" fill="#60c8d8"/>
<ellipse cx="582" cy="252" rx="8.4" ry="8.4" fill="#60c8d8"/>
<ellipse cx="549.3" cy="249.2" rx="8.2" ry="7.800000000000001" fill="#60c8d8"/>
<ellipse cx="537.8" cy="257.2" rx="6.199999999999999" ry="7.199999999999999" fill="#60c8d8"/>
<ellipse cx="555.1" cy="262" rx="12.0" ry="7.6" fill="#60c8d8"/>
<ellipse cx="595.4" cy="262" rx="10.1" ry="7.4" fill="#60c8d8"/>
<ellipse cx="583" cy="260" rx="6.4" ry="7.4" fill="#60c8d8"/>
<ellipse cx="556" cy="195.4" rx="11.7" ry="6.1" fill="#6040c8"/>
<ellipse cx="597.3" cy="201.5" rx="10.7" ry="11.7" fill="#6040c8"/>
<ellipse cx="540.6" cy="205" rx="5.9" ry="6.5" fill="#6040c8"/>
<ellipse cx="556" cy="207.7" rx="6.5" ry="6.5" fill="#6040c8"/>
<ellipse cx="576.2" cy="211.1" rx="11.7" ry="12.2" fill="#6040c8"/>
<ellipse cx="541.2" cy="217.9" rx="6.9" ry="6.5" fill="#6040c8"/>
<ellipse cx="551.6" cy="219.8" rx="4.0" ry="4.6" fill="#6040c8"/>
<ellipse cx="601.2" cy="217.9" rx="5.9" ry="4.0" fill="#6040c8"/>
<ellipse cx="564.7" cy="228" rx="9.2" ry="8.8" fill="#6040c8"/>
<ellipse cx="600.2" cy="236.1" rx="9.7" ry="12.6" fill="#6040c8"/>
<ellipse cx="545.8" cy="235.7" rx="6.5" ry="6.9" fill="#6040c8"/>
<ellipse cx="582.3" cy="233.8" rx="4.6" ry="4.9" fill="#6040c8"/>
<ellipse cx="535" cy="238" rx="2.9000000000000004" ry="6.6" fill="#6040c8"/>
<ellipse cx="560.8" cy="240.9" rx="4.0" ry="3.4" fill="#6040c8"/>
<ellipse cx="573.3" cy="247.6" rx="9.7" ry="9.7" fill="#6040c8"/>
<ellipse cx="582" cy="252" rx="7.1" ry="7.1" fill="#6040c8"/>
<ellipse cx="549.3" cy="249.2" rx="6.9" ry="6.5" fill="#6040c8"/>
<ellipse cx="537.8" cy="257.2" rx="4.9" ry="5.9" fill="#6040c8"/>
<ellipse cx="555.1" cy="262" rx="10.7" ry="6.300000000000001" fill="#6040c8"/>
<ellipse cx="595.4" cy="262" rx="8.8" ry="6.1" fill="#6040c8"/>
<ellipse cx="583" cy="260" rx="5.1" ry="6.1" fill="#6040c8"/>
<ellipse cx="556" cy="195.4" rx="11.05" ry="5.45" fill="#f2ead0"/>
<ellipse cx="597.3" cy="201.5" rx="10.05" ry="11.05" fill="#f2ead0"/>
<ellipse cx="540.6" cy="205" rx="5.25" ry="5.8500000000000005" fill="#f2ead0"/>
<ellipse cx="556" cy="207.7" rx="5.8500000000000005" ry="5.8500000000000005" fill="#f2ead0"/>
<ellipse cx="576.2" cy="211.1" rx="11.05" ry="11.55" fill="#f2ead0"/>
<ellipse cx="541.2" cy="217.9" rx="6.25" ry="5.8500000000000005" fill="#f2ead0"/>
<ellipse cx="551.6" cy="219.8" rx="3.3499999999999996" ry="3.9499999999999997" fill="#f2ead0"/>
<ellipse cx="601.2" cy="217.9" rx="5.25" ry="3.3499999999999996" fill="#f2ead0"/>
<ellipse cx="564.7" cy="228" rx="8.55" ry="8.15" fill="#f2ead0"/>
<ellipse cx="600.2" cy="236.1" rx="9.05" ry="11.950000000000001" fill="#f2ead0"/>
<ellipse cx="545.8" cy="235.7" rx="5.8500000000000005" ry="6.25" fill="#f2ead0"/>
<ellipse cx="582.3" cy="233.8" rx="3.9499999999999997" ry="4.25" fill="#f2ead0"/>
<ellipse cx="535" cy="238" rx="2.25" ry="5.95" fill="#f2ead0"/>
<ellipse cx="560.8" cy="240.9" rx="3.3499999999999996" ry="2.7499999999999996" fill="#f2ead0"/>
<ellipse cx="573.3" cy="247.6" rx="9.05" ry="9.05" fill="#f2ead0"/>
<ellipse cx="582" cy="252" rx="6.45" ry="6.45" fill="#f2ead0"/>
<ellipse cx="549.3" cy="249.2" rx="6.25" ry="5.8500000000000005" fill="#f2ead0"/>
<ellipse cx="537.8" cy="257.2" rx="4.25" ry="5.25" fill="#f2ead0"/>
<ellipse cx="555.1" cy="262" rx="10.05" ry="5.65" fill="#f2ead0"/>
<ellipse cx="595.4" cy="262" rx="8.15" ry="5.45" fill="#f2ead0"/>
<ellipse cx="583" cy="260" rx="4.45" ry="5.45" fill="#f2ead0"/>
<ellipse cx="556" cy="195.4" rx="10.25" ry="4.6499999999999995" fill="#000"/>
<ellipse cx="597.3" cy="201.5" rx="9.25" ry="10.25" fill="#000"/>
<ellipse cx="540.6" cy="205" rx="4.449999999999999" ry="5.05" fill="#000"/>
<ellipse cx="556" cy="207.7" rx="5.05" ry="5.05" fill="#000"/>
<ellipse cx="576.2" cy="211.1" rx="10.25" ry="10.75" fill="#000"/>
<ellipse cx="541.2" cy="217.9" rx="5.449999999999999" ry="5.05" fill="#000"/>
<ellipse cx="551.6" cy="219.8" rx="2.55" ry="3.15" fill="#000"/>
<ellipse cx="601.2" cy="217.9" rx="4.449999999999999" ry="2.55" fill="#000"/>
<ellipse cx="564.7" cy="228" rx="7.749999999999999" ry="7.35" fill="#000"/>
<ellipse cx="600.2" cy="236.1" rx="8.25" ry="11.15" fill="#000"/>
<ellipse cx="545.8" cy="235.7" rx="5.05" ry="5.449999999999999" fill="#000"/>
<ellipse cx="582.3" cy="233.8" rx="3.15" ry="3.4499999999999997" fill="#000"/>
<ellipse cx="535" cy="238" rx="1.45" ry="5.1499999999999995" fill="#000"/>
<ellipse cx="560.8" cy="240.9" rx="2.55" ry="1.95" fill="#000"/>
<ellipse cx="573.3" cy="247.6" rx="8.25" ry="8.25" fill="#000"/>
<ellipse cx="582" cy="252" rx="5.6499999999999995" ry="5.6499999999999995" fill="#000"/>
<ellipse cx="549.3" cy="249.2" rx="5.449999999999999" ry="5.05" fill="#000"/>
<ellipse cx="537.8" cy="257.2" rx="3.4499999999999997" ry="4.449999999999999" fill="#000"/>
<ellipse cx="555.1" cy="262" rx="9.25" ry="4.85" fill="#000"/>
<ellipse cx="595.4" cy="262" rx="7.35" ry="4.6499999999999995" fill="#000"/>
<ellipse cx="583" cy="260" rx="3.65" ry="4.6499999999999995" fill="#000"/>
</g>
<g clip-path="url(#cf3)">
<rect x="533.9" y="271" width="74.4" height="73.2" fill="#000"/>
<mask id="m4"><rect x="530" y="265" width="85" height="85" fill="#000"/>
<polyline points="535,269 537,285 539,298 537,312 536,326 537,346" fill="none" stroke="#fff" stroke-width="3.5" stroke-linejoin="round" stroke-linecap="round"/>
<polyline points="533,272 545,273 550,277 560,276.5 570,275 582,271" fill="none" stroke="#fff" stroke-width="3" stroke-linejoin="round" stroke-linecap="round"/>
<polyline points="537,297 548,296 557,295.5 565,293" fill="none" stroke="#fff" stroke-width="4" stroke-linejoin="round" stroke-linecap="round"/>
<polyline points="557,295.5 556,305 552,315 550,327 556,336 561,346" fill="none" stroke="#fff" stroke-width="4" stroke-linejoin="round" stroke-linecap="round"/>
<polyline points="561,329 568,318 578,311 586,304 592,296 598,291 604,289 611,287" fill="none" stroke="#fff" stroke-width="5.5" stroke-linejoin="round" stroke-linecap="round"/>
<polyline points="592,296 589,286 585,278 581,268" fill="none" stroke="#fff" stroke-width="4.5" stroke-linejoin="round" stroke-linecap="round"/>
<polyline points="578,311 586,320 594,326 603,331 611,336" fill="none" stroke="#fff" stroke-width="6" stroke-linejoin="round" stroke-linecap="round"/>
<polyline points="535,330 541,334 545,341" fill="none" stroke="#fff" stroke-width="6" stroke-linejoin="round" stroke-linecap="round"/>
<polyline points="598,291 603,297 611,298" fill="none" stroke="#fff" stroke-width="2" stroke-linejoin="round" stroke-linecap="round"/>
<ellipse cx="553" cy="286" rx="4" ry="5.5" fill="none" stroke="#fff" stroke-width="1.5"/>
<circle cx="591" cy="297" r="3.7" fill="#fff"/>
<circle cx="602" cy="331" r="4.0" fill="#fff"/>
<circle cx="541" cy="337" r="4.0" fill="#fff"/>
<circle cx="540" cy="293" r="2.7" fill="#fff"/>
<circle cx="571" cy="315" r="3.3" fill="#fff"/>
<circle cx="585" cy="303" r="3.0" fill="#fff"/>
<circle cx="552" cy="318" r="2.5" fill="#fff"/>
<circle cx="538" cy="278" r="3.0" fill="#fff"/>
</mask>
<polyline points="535,269 537,285 539,298 537,312 536,326 537,346" fill="none" stroke="#efe6c8" stroke-width="6.7" stroke-linejoin="round" stroke-linecap="round"/>
<polyline points="533,272 545,273 550,277 560,276.5 570,275 582,271" fill="none" stroke="#efe6c8" stroke-width="6.2" stroke-linejoin="round" stroke-linecap="round"/>
<polyline points="537,297 548,296 557,295.5 565,293" fill="none" stroke="#efe6c8" stroke-width="7.2" stroke-linejoin="round" stroke-linecap="round"/>
<polyline points="557,295.5 556,305 552,315 550,327 556,336 561,346" fill="none" stroke="#efe6c8" stroke-width="7.2" stroke-linejoin="round" stroke-linecap="round"/>
<polyline points="561,329 568,318 578,311 586,304 592,296 598,291 604,289 611,287" fill="none" stroke="#efe6c8" stroke-width="8.7" stroke-linejoin="round" stroke-linecap="round"/>
<polyline points="592,296 589,286 585,278 581,268" fill="none" stroke="#efe6c8" stroke-width="7.7" stroke-linejoin="round" stroke-linecap="round"/>
<polyline points="578,311 586,320 594,326 603,331 611,336" fill="none" stroke="#efe6c8" stroke-width="9.2" stroke-linejoin="round" stroke-linecap="round"/>
<polyline points="535,330 541,334 545,341" fill="none" stroke="#efe6c8" stroke-width="9.2" stroke-linejoin="round" stroke-linecap="round"/>
<polyline points="598,291 603,297 611,298" fill="none" stroke="#efe6c8" stroke-width="5.2" stroke-linejoin="round" stroke-linecap="round"/>
<ellipse cx="553" cy="286" rx="4" ry="5.5" fill="none" stroke="#efe6c8" stroke-width="4.7"/>
<circle cx="591" cy="297" r="5.300000000000001" fill="#efe6c8"/>
<circle cx="602" cy="331" r="5.6" fill="#efe6c8"/>
<circle cx="541" cy="337" r="5.6" fill="#efe6c8"/>
<circle cx="540" cy="293" r="4.300000000000001" fill="#efe6c8"/>
<circle cx="571" cy="315" r="4.9" fill="#efe6c8"/>
<circle cx="585" cy="303" r="4.6" fill="#efe6c8"/>
<circle cx="552" cy="318" r="4.1" fill="#efe6c8"/>
<circle cx="538" cy="278" r="4.6" fill="#efe6c8"/>
<polyline points="535,269 537,285 539,298 537,312 536,326 537,346" fill="none" stroke="#7848d8" stroke-width="5.7" stroke-linejoin="round" stroke-linecap="round"/>
<polyline points="533,272 545,273 550,277 560,276.5 570,275 582,271" fill="none" stroke="#7848d8" stroke-width="5.2" stroke-linejoin="round" stroke-linecap="round"/>
<polyline points="537,297 548,296 557,295.5 565,293" fill="none" stroke="#7848d8" stroke-width="6.2" stroke-linejoin="round" stroke-linecap="round"/>
<polyline points="557,295.5 556,305 552,315 550,327 556,336 561,346" fill="none" stroke="#7848d8" stroke-width="6.2" stroke-linejoin="round" stroke-linecap="round"/>
<polyline points="561,329 568,318 578,311 586,304 592,296 598,291 604,289 611,287" fill="none" stroke="#7848d8" stroke-width="7.7" stroke-linejoin="round" stroke-linecap="round"/>
<polyline points="592,296 589,286 585,278 581,268" fill="none" stroke="#7848d8" stroke-width="6.7" stroke-linejoin="round" stroke-linecap="round"/>
<polyline points="578,311 586,320 594,326 603,331 611,336" fill="none" stroke="#7848d8" stroke-width="8.2" stroke-linejoin="round" stroke-linecap="round"/>
<polyline points="535,330 541,334 545,341" fill="none" stroke="#7848d8" stroke-width="8.2" stroke-linejoin="round" stroke-linecap="round"/>
<polyline points="598,291 603,297 611,298" fill="none" stroke="#7848d8" stroke-width="4.2" stroke-linejoin="round" stroke-linecap="round"/>
<ellipse cx="553" cy="286" rx="4" ry="5.5" fill="none" stroke="#7848d8" stroke-width="3.7"/>
<circle cx="591" cy="297" r="4.8" fill="#7848d8"/>
<circle cx="602" cy="331" r="5.1" fill="#7848d8"/>
<circle cx="541" cy="337" r="5.1" fill="#7848d8"/>
<circle cx="540" cy="293" r="3.8000000000000003" fill="#7848d8"/>
<circle cx="571" cy="315" r="4.3999999999999995" fill="#7848d8"/>
<circle cx="585" cy="303" r="4.1" fill="#7848d8"/>
<circle cx="552" cy="318" r="3.6" fill="#7848d8"/>
<circle cx="538" cy="278" r="4.1" fill="#7848d8"/>
<polyline points="535,269 537,285 539,298 537,312 536,326 537,346" fill="none" stroke="#58c8d8" stroke-width="4.7" stroke-linejoin="round" stroke-linecap="round"/>
<polyline points="533,272 545,273 550,277 560,276.5 570,275 582,271" fill="none" stroke="#58c8d8" stroke-width="4.2" stroke-linejoin="round" stroke-linecap="round"/>
<polyline points="537,297 548,296 557,295.5 565,293" fill="none" stroke="#58c8d8" stroke-width="5.2" stroke-linejoin="round" stroke-linecap="round"/>
<polyline points="557,295.5 556,305 552,315 550,327 556,336 561,346" fill="none" stroke="#58c8d8" stroke-width="5.2" stroke-linejoin="round" stroke-linecap="round"/>
<polyline points="561,329 568,318 578,311 586,304 592,296 598,291 604,289 611,287" fill="none" stroke="#58c8d8" stroke-width="6.7" stroke-linejoin="round" stroke-linecap="round"/>
<polyline points="592,296 589,286 585,278 581,268" fill="none" stroke="#58c8d8" stroke-width="5.7" stroke-linejoin="round" stroke-linecap="round"/>
<polyline points="578,311 586,320 594,326 603,331 611,336" fill="none" stroke="#58c8d8" stroke-width="7.2" stroke-linejoin="round" stroke-linecap="round"/>
<polyline points="535,330 541,334 545,341" fill="none" stroke="#58c8d8" stroke-width="7.2" stroke-linejoin="round" stroke-linecap="round"/>
<polyline points="598,291 603,297 611,298" fill="none" stroke="#58c8d8" stroke-width="3.2" stroke-linejoin="round" stroke-linecap="round"/>
<ellipse cx="553" cy="286" rx="4" ry="5.5" fill="none" stroke="#58c8d8" stroke-width="2.7"/>
<circle cx="591" cy="297" r="4.3" fill="#58c8d8"/>
<circle cx="602" cy="331" r="4.6" fill="#58c8d8"/>
<circle cx="541" cy="337" r="4.6" fill="#58c8d8"/>
<circle cx="540" cy="293" r="3.3000000000000003" fill="#58c8d8"/>
<circle cx="571" cy="315" r="3.9" fill="#58c8d8"/>
<circle cx="585" cy="303" r="3.6" fill="#58c8d8"/>
<circle cx="552" cy="318" r="3.1" fill="#58c8d8"/>
<circle cx="538" cy="278" r="3.6" fill="#58c8d8"/>
<rect x="533.9" y="271" width="74.4" height="73.2" fill="#000" filter="url(#texF4)" mask="url(#m4)"/>
</g>
<rect x="533.9" y="351.7" width="15.1" height="5.2" fill="#000"/>
<text x="553.3" y="358.6" font-size="12" font-weight="bold" style="font-family:'Liberation Sans', sans-serif" textLength="29.5" lengthAdjust="spacingAndGlyphs">100 LJ</text>
<text x="615.00" y="14.20" font-size="16" text-anchor="start" fill="#000" style="font-family:'Liberation Serif', serif" >(g)</text>
<text x="0" y="0" font-size="12" text-anchor="middle" style="font-family:'Liberation Serif', serif" transform="translate(627.5,69.5) rotate(-90)"><tspan font-style="italic">n</tspan> = 2</text>
<circle cx="658.50" cy="53.30" r="3.9" fill="#d63a2a" stroke="none" stroke-width="0"/>
<circle cx="658.90" cy="70.90" r="3.9" fill="#d63a2a" stroke="none" stroke-width="0"/>
<circle cx="658.90" cy="88.80" r="3.9" fill="#d63a2a" stroke="none" stroke-width="0"/>
<text x="0" y="0" font-size="12" text-anchor="middle" style="font-family:'Liberation Serif', serif" transform="translate(627.5,127.5) rotate(-90)"><tspan font-style="italic">n</tspan> = 3</text>
<circle cx="643.30" cy="111.00" r="3.9" fill="#0a0af0" stroke="none" stroke-width="0"/>
<circle cx="653.90" cy="128.90" r="3.9" fill="#0a0af0" stroke="none" stroke-width="0"/>
<circle cx="673.80" cy="128.90" r="3.9" fill="#0a0af0" stroke="none" stroke-width="0"/>
<circle cx="643.30" cy="146.50" r="3.9" fill="#0a0af0" stroke="none" stroke-width="0"/>
<text x="0" y="0" font-size="12" text-anchor="middle" style="font-family:'Liberation Serif', serif" transform="translate(627.5,184.5) rotate(-90)"><tspan font-style="italic">n</tspan> = 4</text>
<circle cx="658.90" cy="168.00" r="3.9" fill="#c03ef0" stroke="none" stroke-width="0"/>
<circle cx="637.90" cy="189.30" r="3.9" fill="#c03ef0" stroke="none" stroke-width="0"/>
<circle cx="658.90" cy="189.30" r="3.9" fill="#c03ef0" stroke="none" stroke-width="0"/>
<circle cx="679.80" cy="189.30" r="3.9" fill="#c03ef0" stroke="none" stroke-width="0"/>
<circle cx="658.90" cy="209.90" r="3.9" fill="#c03ef0" stroke="none" stroke-width="0"/>
<text x="0" y="0" font-size="12" text-anchor="middle" style="font-family:'Liberation Serif', serif" transform="translate(627.5,245) rotate(-90)"><tspan font-style="italic">n</tspan> = 6</text>
<circle cx="648.50" cy="231.60" r="3.9" fill="#4d7b45" stroke="none" stroke-width="0"/>
<circle cx="668.80" cy="231.60" r="3.9" fill="#4d7b45" stroke="none" stroke-width="0"/>
<circle cx="637.90" cy="249.50" r="3.9" fill="#4d7b45" stroke="none" stroke-width="0"/>
<circle cx="658.90" cy="249.50" r="3.9" fill="#4d7b45" stroke="none" stroke-width="0"/>
<circle cx="679.40" cy="249.50" r="3.9" fill="#4d7b45" stroke="none" stroke-width="0"/>
<circle cx="648.50" cy="267.50" r="3.9" fill="#4d7b45" stroke="none" stroke-width="0"/>
<circle cx="668.80" cy="267.50" r="3.9" fill="#4d7b45" stroke="none" stroke-width="0"/>
<text x="0" y="0" font-size="12" text-anchor="middle" style="font-family:'Liberation Serif', serif" transform="translate(627.5,305.5) rotate(-90)"><tspan font-style="italic">n</tspan> = 8</text>
<circle cx="658.50" cy="288.40" r="3.9" fill="#5cb5bd" stroke="none" stroke-width="0"/>
<circle cx="643.90" cy="294.50" r="3.9" fill="#5cb5bd" stroke="none" stroke-width="0"/>
<circle cx="673.40" cy="294.50" r="3.9" fill="#5cb5bd" stroke="none" stroke-width="0"/>
<circle cx="637.90" cy="309.30" r="3.9" fill="#5cb5bd" stroke="none" stroke-width="0"/>
<circle cx="658.90" cy="309.30" r="3.9" fill="#5cb5bd" stroke="none" stroke-width="0"/>
<circle cx="679.40" cy="309.30" r="3.9" fill="#5cb5bd" stroke="none" stroke-width="0"/>
<circle cx="644.30" cy="323.90" r="3.9" fill="#5cb5bd" stroke="none" stroke-width="0"/>
<circle cx="673.40" cy="323.90" r="3.9" fill="#5cb5bd" stroke="none" stroke-width="0"/>
<circle cx="658.50" cy="329.90" r="3.9" fill="#5cb5bd" stroke="none" stroke-width="0"/>
</svg></body></html>
